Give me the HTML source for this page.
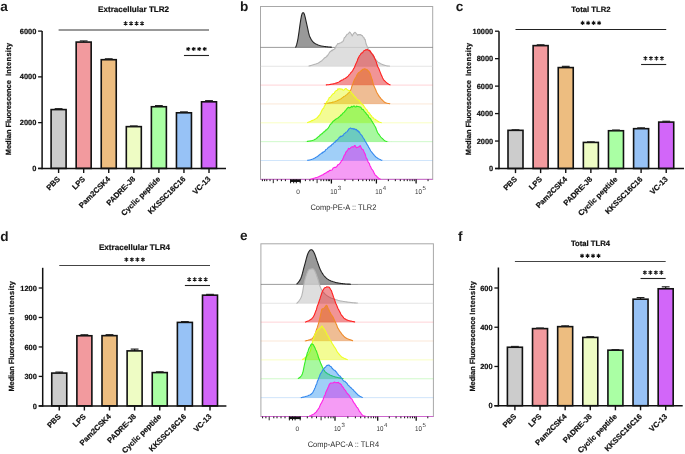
<!DOCTYPE html>
<html><head><meta charset="utf-8"><style>
html,body{margin:0;padding:0;background:#fff;width:685px;height:454px;overflow:hidden}
svg{display:block;font-family:"Liberation Sans", sans-serif;will-change:transform;text-rendering:geometricPrecision}
text[font-weight=bold]{stroke:#111;stroke-width:0.2px}
</style></head><body>
<svg width="685" height="454" viewBox="0 0 685 454">
<rect width="685" height="454" fill="#fff"/>
<rect x="51.10" y="109.59" width="15.00" height="58.81" fill="#cccccc" stroke="#111" stroke-width="1.6"/>
<line x1="58.60" y1="109.59" x2="58.60" y2="108.67" stroke="#111" stroke-width="1.2"/>
<line x1="54.70" y1="108.67" x2="62.50" y2="108.67" stroke="#222" stroke-width="1.2"/>
<line x1="58.60" y1="168.40" x2="58.60" y2="173.00" stroke="#111" stroke-width="1.4"/>
<text x="60.60" y="179.60" transform="rotate(-45 60.60 179.60)" text-anchor="end" font-size="7.65" font-weight="bold" fill="#111" class="b">PBS</text>
<rect x="76.17" y="42.08" width="15.00" height="126.32" fill="#f29a9e" stroke="#111" stroke-width="1.6"/>
<line x1="83.67" y1="42.08" x2="83.67" y2="40.94" stroke="#111" stroke-width="1.2"/>
<line x1="79.77" y1="40.94" x2="87.57" y2="40.94" stroke="#222" stroke-width="1.2"/>
<line x1="83.67" y1="168.40" x2="83.67" y2="173.00" stroke="#111" stroke-width="1.4"/>
<text x="85.67" y="179.60" transform="rotate(-45 85.67 179.60)" text-anchor="end" font-size="7.65" font-weight="bold" fill="#111" class="b">LPS</text>
<rect x="101.24" y="59.70" width="15.00" height="108.70" fill="#edbd80" stroke="#111" stroke-width="1.6"/>
<line x1="108.74" y1="59.70" x2="108.74" y2="58.79" stroke="#111" stroke-width="1.2"/>
<line x1="104.84" y1="58.79" x2="112.64" y2="58.79" stroke="#222" stroke-width="1.2"/>
<line x1="108.74" y1="168.40" x2="108.74" y2="173.00" stroke="#111" stroke-width="1.4"/>
<text x="110.74" y="179.60" transform="rotate(-45 110.74 179.60)" text-anchor="end" font-size="7.65" font-weight="bold" fill="#111" class="b">Pam2CSK4</text>
<rect x="126.31" y="126.64" width="15.00" height="41.76" fill="#eefcc4" stroke="#111" stroke-width="1.6"/>
<line x1="133.81" y1="126.64" x2="133.81" y2="125.95" stroke="#111" stroke-width="1.2"/>
<line x1="129.91" y1="125.95" x2="137.71" y2="125.95" stroke="#222" stroke-width="1.2"/>
<line x1="133.81" y1="168.40" x2="133.81" y2="173.00" stroke="#111" stroke-width="1.4"/>
<text x="135.81" y="179.60" transform="rotate(-45 135.81 179.60)" text-anchor="end" font-size="7.65" font-weight="bold" fill="#111" class="b">PADRE-J8</text>
<rect x="151.38" y="106.73" width="15.00" height="61.67" fill="#aaffa4" stroke="#111" stroke-width="1.6"/>
<line x1="158.88" y1="106.73" x2="158.88" y2="105.59" stroke="#111" stroke-width="1.2"/>
<line x1="154.98" y1="105.59" x2="162.78" y2="105.59" stroke="#222" stroke-width="1.2"/>
<line x1="158.88" y1="168.40" x2="158.88" y2="173.00" stroke="#111" stroke-width="1.4"/>
<text x="160.88" y="179.60" transform="rotate(-45 160.88 179.60)" text-anchor="end" font-size="7.65" font-weight="bold" fill="#111" class="b">Cyclic peptide</text>
<rect x="176.45" y="112.79" width="15.00" height="55.61" fill="#97c2f6" stroke="#111" stroke-width="1.6"/>
<line x1="183.95" y1="112.79" x2="183.95" y2="111.88" stroke="#111" stroke-width="1.2"/>
<line x1="180.05" y1="111.88" x2="187.85" y2="111.88" stroke="#222" stroke-width="1.2"/>
<line x1="183.95" y1="168.40" x2="183.95" y2="173.00" stroke="#111" stroke-width="1.4"/>
<text x="185.95" y="179.60" transform="rotate(-45 185.95 179.60)" text-anchor="end" font-size="7.65" font-weight="bold" fill="#111" class="b">KKSSC16C16</text>
<rect x="201.52" y="101.81" width="15.00" height="66.59" fill="#d266f9" stroke="#111" stroke-width="1.6"/>
<line x1="209.02" y1="101.81" x2="209.02" y2="100.67" stroke="#111" stroke-width="1.2"/>
<line x1="205.12" y1="100.67" x2="212.92" y2="100.67" stroke="#222" stroke-width="1.2"/>
<line x1="209.02" y1="168.40" x2="209.02" y2="173.00" stroke="#111" stroke-width="1.4"/>
<text x="211.02" y="179.60" transform="rotate(-45 211.02 179.60)" text-anchor="end" font-size="7.65" font-weight="bold" fill="#111" class="b">VC-13</text>
<line x1="38.10" y1="168.40" x2="226.00" y2="168.40" stroke="#111" stroke-width="1.5"/>
<line x1="42.10" y1="31.10" x2="42.10" y2="169.15" stroke="#111" stroke-width="1.5"/>
<line x1="38.10" y1="168.40" x2="42.10" y2="168.40" stroke="#111" stroke-width="1.3"/>
<text x="36.30" y="171.00" text-anchor="end" font-size="7.45" font-weight="bold" fill="#111">0</text>
<line x1="38.10" y1="122.63" x2="42.10" y2="122.63" stroke="#111" stroke-width="1.3"/>
<text x="36.30" y="125.23" text-anchor="end" font-size="7.45" font-weight="bold" fill="#111">2000</text>
<line x1="38.10" y1="76.87" x2="42.10" y2="76.87" stroke="#111" stroke-width="1.3"/>
<text x="36.30" y="79.47" text-anchor="end" font-size="7.45" font-weight="bold" fill="#111">4000</text>
<line x1="38.10" y1="31.10" x2="42.10" y2="31.10" stroke="#111" stroke-width="1.3"/>
<text x="36.30" y="33.70" text-anchor="end" font-size="7.45" font-weight="bold" fill="#111">6000</text>
<text x="133.60" y="12.10" text-anchor="middle" font-size="8.1" font-weight="bold" fill="#111">Extracellular TLR2</text>
<line x1="58.60" y1="30.00" x2="209.02" y2="30.00" stroke="#777" stroke-width="1.6"/>
<path d="M125.56,21.30L125.56,25.50M123.74,22.35L127.38,24.45M123.74,24.45L127.38,22.35M131.06,21.30L131.06,25.50M129.24,22.35L132.88,24.45M129.24,24.45L132.88,22.35M136.56,21.30L136.56,25.50M134.74,22.35L138.38,24.45M134.74,24.45L138.38,22.35M142.06,21.30L142.06,25.50M140.24,22.35L143.88,24.45M140.24,24.45L143.88,22.35" stroke="#111" stroke-width="1.05" stroke-linecap="butt" fill="none"/>
<line x1="183.95" y1="55.50" x2="209.02" y2="55.50" stroke="#222" stroke-width="1.1"/>
<path d="M188.24,46.90L188.24,51.10M186.42,47.95L190.05,50.05M186.42,50.05L190.05,47.95M193.74,46.90L193.74,51.10M191.92,47.95L195.55,50.05M191.92,50.05L195.55,47.95M199.24,46.90L199.24,51.10M197.42,47.95L201.05,50.05M197.42,50.05L201.05,47.95M204.74,46.90L204.74,51.10M202.92,47.95L206.55,50.05M202.92,50.05L206.55,47.95" stroke="#111" stroke-width="1.05" stroke-linecap="butt" fill="none"/>
<text x="10.90" y="76.05" transform="rotate(-90 10.90 76.05)" font-size="7.5" font-weight="bold" fill="#111" textLength="33.27" lengthAdjust="spacing">Intensity</text>
<text x="10.90" y="127.60" transform="rotate(-90 10.90 127.60)" font-size="7.5" font-weight="bold" fill="#111" textLength="47.50" lengthAdjust="spacing">Fluorescence</text>
<text x="10.90" y="155.30" transform="rotate(-90 10.90 155.30)" font-size="7.5" font-weight="bold" fill="#111" textLength="25.86" lengthAdjust="spacing">Median</text>
<rect x="508.00" y="130.33" width="15.00" height="38.17" fill="#cccccc" stroke="#111" stroke-width="1.6"/>
<line x1="515.50" y1="130.33" x2="515.50" y2="129.78" stroke="#111" stroke-width="1.2"/>
<line x1="511.60" y1="129.78" x2="519.40" y2="129.78" stroke="#222" stroke-width="1.2"/>
<line x1="515.50" y1="168.50" x2="515.50" y2="173.10" stroke="#111" stroke-width="1.4"/>
<text x="517.50" y="179.70" transform="rotate(-45 517.50 179.70)" text-anchor="end" font-size="7.65" font-weight="bold" fill="#111" class="b">PBS</text>
<rect x="533.12" y="45.62" width="15.00" height="122.88" fill="#f29a9e" stroke="#111" stroke-width="1.6"/>
<line x1="540.62" y1="45.62" x2="540.62" y2="44.79" stroke="#111" stroke-width="1.2"/>
<line x1="536.72" y1="44.79" x2="544.52" y2="44.79" stroke="#222" stroke-width="1.2"/>
<line x1="540.62" y1="168.50" x2="540.62" y2="173.10" stroke="#111" stroke-width="1.4"/>
<text x="542.62" y="179.70" transform="rotate(-45 542.62 179.70)" text-anchor="end" font-size="7.65" font-weight="bold" fill="#111" class="b">LPS</text>
<rect x="558.24" y="67.58" width="15.00" height="100.92" fill="#edbd80" stroke="#111" stroke-width="1.6"/>
<line x1="565.74" y1="67.58" x2="565.74" y2="66.35" stroke="#111" stroke-width="1.2"/>
<line x1="561.84" y1="66.35" x2="569.64" y2="66.35" stroke="#222" stroke-width="1.2"/>
<line x1="565.74" y1="168.50" x2="565.74" y2="173.10" stroke="#111" stroke-width="1.4"/>
<text x="567.74" y="179.70" transform="rotate(-45 567.74 179.70)" text-anchor="end" font-size="7.65" font-weight="bold" fill="#111" class="b">Pam2CSK4</text>
<rect x="583.36" y="142.41" width="15.00" height="26.09" fill="#eefcc4" stroke="#111" stroke-width="1.6"/>
<line x1="590.86" y1="142.41" x2="590.86" y2="141.86" stroke="#111" stroke-width="1.2"/>
<line x1="586.96" y1="141.86" x2="594.76" y2="141.86" stroke="#222" stroke-width="1.2"/>
<line x1="590.86" y1="168.50" x2="590.86" y2="173.10" stroke="#111" stroke-width="1.4"/>
<text x="592.86" y="179.70" transform="rotate(-45 592.86 179.70)" text-anchor="end" font-size="7.65" font-weight="bold" fill="#111" class="b">PADRE-J8</text>
<rect x="608.48" y="130.74" width="15.00" height="37.76" fill="#aaffa4" stroke="#111" stroke-width="1.6"/>
<line x1="615.98" y1="130.74" x2="615.98" y2="130.06" stroke="#111" stroke-width="1.2"/>
<line x1="612.08" y1="130.06" x2="619.88" y2="130.06" stroke="#222" stroke-width="1.2"/>
<line x1="615.98" y1="168.50" x2="615.98" y2="173.10" stroke="#111" stroke-width="1.4"/>
<text x="617.98" y="179.70" transform="rotate(-45 617.98 179.70)" text-anchor="end" font-size="7.65" font-weight="bold" fill="#111" class="b">Cyclic peptide</text>
<rect x="633.60" y="128.68" width="15.00" height="39.82" fill="#97c2f6" stroke="#111" stroke-width="1.6"/>
<line x1="641.10" y1="128.68" x2="641.10" y2="127.86" stroke="#111" stroke-width="1.2"/>
<line x1="637.20" y1="127.86" x2="645.00" y2="127.86" stroke="#222" stroke-width="1.2"/>
<line x1="641.10" y1="168.50" x2="641.10" y2="173.10" stroke="#111" stroke-width="1.4"/>
<text x="643.10" y="179.70" transform="rotate(-45 643.10 179.70)" text-anchor="end" font-size="7.65" font-weight="bold" fill="#111" class="b">KKSSC16C16</text>
<rect x="658.72" y="122.09" width="15.00" height="46.41" fill="#d266f9" stroke="#111" stroke-width="1.6"/>
<line x1="666.22" y1="122.09" x2="666.22" y2="121.27" stroke="#111" stroke-width="1.2"/>
<line x1="662.32" y1="121.27" x2="670.12" y2="121.27" stroke="#222" stroke-width="1.2"/>
<line x1="666.22" y1="168.50" x2="666.22" y2="173.10" stroke="#111" stroke-width="1.4"/>
<text x="668.22" y="179.70" transform="rotate(-45 668.22 179.70)" text-anchor="end" font-size="7.65" font-weight="bold" fill="#111" class="b">VC-13</text>
<line x1="495.00" y1="168.50" x2="684.00" y2="168.50" stroke="#111" stroke-width="1.5"/>
<line x1="499.00" y1="31.20" x2="499.00" y2="169.25" stroke="#111" stroke-width="1.5"/>
<line x1="495.00" y1="168.50" x2="499.00" y2="168.50" stroke="#111" stroke-width="1.3"/>
<text x="493.20" y="171.10" text-anchor="end" font-size="7.45" font-weight="bold" fill="#111">0</text>
<line x1="495.00" y1="141.04" x2="499.00" y2="141.04" stroke="#111" stroke-width="1.3"/>
<text x="493.20" y="143.64" text-anchor="end" font-size="7.45" font-weight="bold" fill="#111">2000</text>
<line x1="495.00" y1="113.58" x2="499.00" y2="113.58" stroke="#111" stroke-width="1.3"/>
<text x="493.20" y="116.18" text-anchor="end" font-size="7.45" font-weight="bold" fill="#111">4000</text>
<line x1="495.00" y1="86.12" x2="499.00" y2="86.12" stroke="#111" stroke-width="1.3"/>
<text x="493.20" y="88.72" text-anchor="end" font-size="7.45" font-weight="bold" fill="#111">6000</text>
<line x1="495.00" y1="58.66" x2="499.00" y2="58.66" stroke="#111" stroke-width="1.3"/>
<text x="493.20" y="61.26" text-anchor="end" font-size="7.45" font-weight="bold" fill="#111">8000</text>
<line x1="495.00" y1="31.20" x2="499.00" y2="31.20" stroke="#111" stroke-width="1.3"/>
<text x="493.20" y="33.80" text-anchor="end" font-size="7.45" font-weight="bold" fill="#111">10000</text>
<text x="590.90" y="11.60" text-anchor="middle" font-size="7.7" font-weight="bold" fill="#111">Total TLR2</text>
<line x1="515.50" y1="29.50" x2="666.22" y2="29.50" stroke="#222" stroke-width="1.2"/>
<path d="M582.61,20.80L582.61,25.00M580.79,21.85L584.43,23.95M580.79,23.95L584.43,21.85M588.11,20.80L588.11,25.00M586.29,21.85L589.93,23.95M586.29,23.95L589.93,21.85M593.61,20.80L593.61,25.00M591.79,21.85L595.43,23.95M591.79,23.95L595.43,21.85M599.11,20.80L599.11,25.00M597.29,21.85L600.93,23.95M597.29,23.95L600.93,21.85" stroke="#111" stroke-width="1.05" stroke-linecap="butt" fill="none"/>
<line x1="641.10" y1="64.50" x2="666.22" y2="64.50" stroke="#222" stroke-width="1.1"/>
<path d="M645.41,56.20L645.41,60.40M643.59,57.25L647.23,59.35M643.59,59.35L647.23,57.25M650.91,56.20L650.91,60.40M649.09,57.25L652.73,59.35M649.09,59.35L652.73,57.25M656.41,56.20L656.41,60.40M654.59,57.25L658.23,59.35M654.59,59.35L658.23,57.25M661.91,56.20L661.91,60.40M660.09,57.25L663.73,59.35M660.09,59.35L663.73,57.25" stroke="#111" stroke-width="1.05" stroke-linecap="butt" fill="none"/>
<text x="471.35" y="76.05" transform="rotate(-90 471.35 76.05)" font-size="7.5" font-weight="bold" fill="#111" textLength="33.27" lengthAdjust="spacing">Intensity</text>
<text x="471.35" y="127.60" transform="rotate(-90 471.35 127.60)" font-size="7.5" font-weight="bold" fill="#111" textLength="47.50" lengthAdjust="spacing">Fluorescence</text>
<text x="471.35" y="155.30" transform="rotate(-90 471.35 155.30)" font-size="7.5" font-weight="bold" fill="#111" textLength="25.86" lengthAdjust="spacing">Median</text>
<rect x="51.75" y="373.08" width="15.00" height="32.82" fill="#cccccc" stroke="#111" stroke-width="1.6"/>
<line x1="59.25" y1="373.08" x2="59.25" y2="372.10" stroke="#111" stroke-width="1.2"/>
<line x1="55.35" y1="372.10" x2="63.15" y2="372.10" stroke="#222" stroke-width="1.2"/>
<line x1="59.25" y1="405.90" x2="59.25" y2="410.50" stroke="#111" stroke-width="1.4"/>
<text x="61.25" y="417.10" transform="rotate(-45 61.25 417.10)" text-anchor="end" font-size="7.65" font-weight="bold" fill="#111" class="b">PBS</text>
<rect x="76.88" y="335.75" width="15.00" height="70.15" fill="#f29a9e" stroke="#111" stroke-width="1.6"/>
<line x1="84.38" y1="335.75" x2="84.38" y2="334.77" stroke="#111" stroke-width="1.2"/>
<line x1="80.47" y1="334.77" x2="88.28" y2="334.77" stroke="#222" stroke-width="1.2"/>
<line x1="84.38" y1="405.90" x2="84.38" y2="410.50" stroke="#111" stroke-width="1.4"/>
<text x="86.38" y="417.10" transform="rotate(-45 86.38 417.10)" text-anchor="end" font-size="7.65" font-weight="bold" fill="#111" class="b">LPS</text>
<rect x="102.00" y="335.65" width="15.00" height="70.25" fill="#edbd80" stroke="#111" stroke-width="1.6"/>
<line x1="109.50" y1="335.65" x2="109.50" y2="334.67" stroke="#111" stroke-width="1.2"/>
<line x1="105.60" y1="334.67" x2="113.40" y2="334.67" stroke="#222" stroke-width="1.2"/>
<line x1="109.50" y1="405.90" x2="109.50" y2="410.50" stroke="#111" stroke-width="1.4"/>
<text x="111.50" y="417.10" transform="rotate(-45 111.50 417.10)" text-anchor="end" font-size="7.65" font-weight="bold" fill="#111" class="b">Pam2CSK4</text>
<rect x="127.12" y="350.88" width="15.00" height="55.02" fill="#eefcc4" stroke="#111" stroke-width="1.6"/>
<line x1="134.62" y1="350.88" x2="134.62" y2="349.11" stroke="#111" stroke-width="1.2"/>
<line x1="130.72" y1="349.11" x2="138.53" y2="349.11" stroke="#222" stroke-width="1.2"/>
<line x1="134.62" y1="405.90" x2="134.62" y2="410.50" stroke="#111" stroke-width="1.4"/>
<text x="136.62" y="417.10" transform="rotate(-45 136.62 417.10)" text-anchor="end" font-size="7.65" font-weight="bold" fill="#111" class="b">PADRE-J8</text>
<rect x="152.25" y="372.59" width="15.00" height="33.31" fill="#aaffa4" stroke="#111" stroke-width="1.6"/>
<line x1="159.75" y1="372.59" x2="159.75" y2="371.81" stroke="#111" stroke-width="1.2"/>
<line x1="155.85" y1="371.81" x2="163.65" y2="371.81" stroke="#222" stroke-width="1.2"/>
<line x1="159.75" y1="405.90" x2="159.75" y2="410.50" stroke="#111" stroke-width="1.4"/>
<text x="161.75" y="417.10" transform="rotate(-45 161.75 417.10)" text-anchor="end" font-size="7.65" font-weight="bold" fill="#111" class="b">Cyclic peptide</text>
<rect x="177.38" y="322.39" width="15.00" height="83.51" fill="#97c2f6" stroke="#111" stroke-width="1.6"/>
<line x1="184.88" y1="322.39" x2="184.88" y2="321.60" stroke="#111" stroke-width="1.2"/>
<line x1="180.97" y1="321.60" x2="188.78" y2="321.60" stroke="#222" stroke-width="1.2"/>
<line x1="184.88" y1="405.90" x2="184.88" y2="410.50" stroke="#111" stroke-width="1.4"/>
<text x="186.88" y="417.10" transform="rotate(-45 186.88 417.10)" text-anchor="end" font-size="7.65" font-weight="bold" fill="#111" class="b">KKSSC16C16</text>
<rect x="202.50" y="295.17" width="15.00" height="110.73" fill="#d266f9" stroke="#111" stroke-width="1.6"/>
<line x1="210.00" y1="295.17" x2="210.00" y2="294.39" stroke="#111" stroke-width="1.2"/>
<line x1="206.10" y1="294.39" x2="213.90" y2="294.39" stroke="#222" stroke-width="1.2"/>
<line x1="210.00" y1="405.90" x2="210.00" y2="410.50" stroke="#111" stroke-width="1.4"/>
<text x="212.00" y="417.10" transform="rotate(-45 212.00 417.10)" text-anchor="end" font-size="7.65" font-weight="bold" fill="#111" class="b">VC-13</text>
<line x1="38.70" y1="405.90" x2="226.40" y2="405.90" stroke="#111" stroke-width="1.5"/>
<line x1="42.70" y1="267.80" x2="42.70" y2="406.65" stroke="#111" stroke-width="1.5"/>
<line x1="38.70" y1="405.90" x2="42.70" y2="405.90" stroke="#111" stroke-width="1.3"/>
<text x="36.90" y="408.50" text-anchor="end" font-size="7.45" font-weight="bold" fill="#111">0</text>
<line x1="38.70" y1="376.42" x2="42.70" y2="376.42" stroke="#111" stroke-width="1.3"/>
<text x="36.90" y="379.02" text-anchor="end" font-size="7.45" font-weight="bold" fill="#111">300</text>
<line x1="38.70" y1="346.95" x2="42.70" y2="346.95" stroke="#111" stroke-width="1.3"/>
<text x="36.90" y="349.55" text-anchor="end" font-size="7.45" font-weight="bold" fill="#111">600</text>
<line x1="38.70" y1="317.48" x2="42.70" y2="317.48" stroke="#111" stroke-width="1.3"/>
<text x="36.90" y="320.08" text-anchor="end" font-size="7.45" font-weight="bold" fill="#111">900</text>
<line x1="38.70" y1="288.00" x2="42.70" y2="288.00" stroke="#111" stroke-width="1.3"/>
<text x="36.90" y="290.60" text-anchor="end" font-size="7.45" font-weight="bold" fill="#111">1200</text>
<text x="134.50" y="249.60" text-anchor="middle" font-size="8.1" font-weight="bold" fill="#111">Extracellular TLR4</text>
<line x1="59.25" y1="265.50" x2="210.00" y2="265.50" stroke="#444" stroke-width="1.2"/>
<path d="M126.38,257.50L126.38,261.70M124.56,258.55L128.19,260.65M124.56,260.65L128.19,258.55M131.88,257.50L131.88,261.70M130.06,258.55L133.69,260.65M130.06,260.65L133.69,258.55M137.38,257.50L137.38,261.70M135.56,258.55L139.19,260.65M135.56,260.65L139.19,258.55M142.88,257.50L142.88,261.70M141.06,258.55L144.69,260.65M141.06,260.65L144.69,258.55" stroke="#111" stroke-width="1.05" stroke-linecap="butt" fill="none"/>
<line x1="184.88" y1="285.50" x2="210.00" y2="285.50" stroke="#222" stroke-width="1.1"/>
<path d="M189.19,277.30L189.19,281.50M187.37,278.35L191.01,280.45M187.37,280.45L191.01,278.35M194.69,277.30L194.69,281.50M192.87,278.35L196.51,280.45M192.87,280.45L196.51,278.35M200.19,277.30L200.19,281.50M198.37,278.35L202.01,280.45M198.37,280.45L202.01,278.35M205.69,277.30L205.69,281.50M203.87,278.35L207.51,280.45M203.87,280.45L207.51,278.35" stroke="#111" stroke-width="1.05" stroke-linecap="butt" fill="none"/>
<text x="13.90" y="314.75" transform="rotate(-90 13.90 314.75)" font-size="7.5" font-weight="bold" fill="#111" textLength="33.72" lengthAdjust="spacing">Intensity</text>
<text x="13.90" y="364.25" transform="rotate(-90 13.90 364.25)" font-size="7.5" font-weight="bold" fill="#111" textLength="47.75" lengthAdjust="spacing">Fluorescence</text>
<text x="13.90" y="391.55" transform="rotate(-90 13.90 391.55)" font-size="7.5" font-weight="bold" fill="#111" textLength="25.31" lengthAdjust="spacing">Median</text>
<rect x="507.40" y="347.24" width="15.00" height="58.46" fill="#cccccc" stroke="#111" stroke-width="1.6"/>
<line x1="514.90" y1="347.24" x2="514.90" y2="346.46" stroke="#111" stroke-width="1.2"/>
<line x1="511.00" y1="346.46" x2="518.80" y2="346.46" stroke="#222" stroke-width="1.2"/>
<line x1="514.90" y1="405.70" x2="514.90" y2="410.30" stroke="#111" stroke-width="1.4"/>
<text x="516.90" y="416.90" transform="rotate(-45 516.90 416.90)" text-anchor="end" font-size="7.65" font-weight="bold" fill="#111" class="b">PBS</text>
<rect x="532.53" y="328.61" width="15.00" height="77.09" fill="#f29a9e" stroke="#111" stroke-width="1.6"/>
<line x1="540.03" y1="328.61" x2="540.03" y2="328.02" stroke="#111" stroke-width="1.2"/>
<line x1="536.13" y1="328.02" x2="543.93" y2="328.02" stroke="#222" stroke-width="1.2"/>
<line x1="540.03" y1="405.70" x2="540.03" y2="410.30" stroke="#111" stroke-width="1.4"/>
<text x="542.03" y="416.90" transform="rotate(-45 542.03 416.90)" text-anchor="end" font-size="7.65" font-weight="bold" fill="#111" class="b">LPS</text>
<rect x="557.66" y="326.64" width="15.00" height="79.06" fill="#edbd80" stroke="#111" stroke-width="1.6"/>
<line x1="565.16" y1="326.64" x2="565.16" y2="325.86" stroke="#111" stroke-width="1.2"/>
<line x1="561.26" y1="325.86" x2="569.06" y2="325.86" stroke="#222" stroke-width="1.2"/>
<line x1="565.16" y1="405.70" x2="565.16" y2="410.30" stroke="#111" stroke-width="1.4"/>
<text x="567.16" y="416.90" transform="rotate(-45 567.16 416.90)" text-anchor="end" font-size="7.65" font-weight="bold" fill="#111" class="b">Pam2CSK4</text>
<rect x="582.79" y="337.43" width="15.00" height="68.27" fill="#eefcc4" stroke="#111" stroke-width="1.6"/>
<line x1="590.29" y1="337.43" x2="590.29" y2="336.65" stroke="#111" stroke-width="1.2"/>
<line x1="586.39" y1="336.65" x2="594.19" y2="336.65" stroke="#222" stroke-width="1.2"/>
<line x1="590.29" y1="405.70" x2="590.29" y2="410.30" stroke="#111" stroke-width="1.4"/>
<text x="592.29" y="416.90" transform="rotate(-45 592.29 416.90)" text-anchor="end" font-size="7.65" font-weight="bold" fill="#111" class="b">PADRE-J8</text>
<rect x="607.92" y="350.18" width="15.00" height="55.52" fill="#aaffa4" stroke="#111" stroke-width="1.6"/>
<line x1="615.42" y1="350.18" x2="615.42" y2="349.60" stroke="#111" stroke-width="1.2"/>
<line x1="611.52" y1="349.60" x2="619.32" y2="349.60" stroke="#222" stroke-width="1.2"/>
<line x1="615.42" y1="405.70" x2="615.42" y2="410.30" stroke="#111" stroke-width="1.4"/>
<text x="617.42" y="416.90" transform="rotate(-45 617.42 416.90)" text-anchor="end" font-size="7.65" font-weight="bold" fill="#111" class="b">Cyclic peptide</text>
<rect x="633.05" y="299.18" width="15.00" height="106.52" fill="#97c2f6" stroke="#111" stroke-width="1.6"/>
<line x1="640.55" y1="299.18" x2="640.55" y2="297.61" stroke="#111" stroke-width="1.2"/>
<line x1="636.65" y1="297.61" x2="644.45" y2="297.61" stroke="#222" stroke-width="1.2"/>
<line x1="640.55" y1="405.70" x2="640.55" y2="410.30" stroke="#111" stroke-width="1.4"/>
<text x="642.55" y="416.90" transform="rotate(-45 642.55 416.90)" text-anchor="end" font-size="7.65" font-weight="bold" fill="#111" class="b">KKSSC16C16</text>
<rect x="658.18" y="288.78" width="15.00" height="116.92" fill="#d266f9" stroke="#111" stroke-width="1.6"/>
<line x1="665.68" y1="288.78" x2="665.68" y2="286.82" stroke="#111" stroke-width="1.2"/>
<line x1="661.78" y1="286.82" x2="669.58" y2="286.82" stroke="#222" stroke-width="1.2"/>
<line x1="665.68" y1="405.70" x2="665.68" y2="410.30" stroke="#111" stroke-width="1.4"/>
<text x="667.68" y="416.90" transform="rotate(-45 667.68 416.90)" text-anchor="end" font-size="7.65" font-weight="bold" fill="#111" class="b">VC-13</text>
<line x1="494.40" y1="405.70" x2="682.70" y2="405.70" stroke="#111" stroke-width="1.5"/>
<line x1="498.40" y1="267.50" x2="498.40" y2="406.45" stroke="#111" stroke-width="1.5"/>
<line x1="494.40" y1="405.70" x2="498.40" y2="405.70" stroke="#111" stroke-width="1.3"/>
<text x="492.60" y="408.30" text-anchor="end" font-size="7.45" font-weight="bold" fill="#111">0</text>
<line x1="494.40" y1="366.47" x2="498.40" y2="366.47" stroke="#111" stroke-width="1.3"/>
<text x="492.60" y="369.07" text-anchor="end" font-size="7.45" font-weight="bold" fill="#111">200</text>
<line x1="494.40" y1="327.23" x2="498.40" y2="327.23" stroke="#111" stroke-width="1.3"/>
<text x="492.60" y="329.83" text-anchor="end" font-size="7.45" font-weight="bold" fill="#111">400</text>
<line x1="494.40" y1="288.00" x2="498.40" y2="288.00" stroke="#111" stroke-width="1.3"/>
<text x="492.60" y="290.60" text-anchor="end" font-size="7.45" font-weight="bold" fill="#111">600</text>
<text x="590.50" y="246.30" text-anchor="middle" font-size="7.7" font-weight="bold" fill="#111">Total TLR4</text>
<line x1="514.90" y1="261.50" x2="665.68" y2="261.50" stroke="#444" stroke-width="1.2"/>
<path d="M582.04,253.70L582.04,257.90M580.22,254.75L583.86,256.85M580.22,256.85L583.86,254.75M587.54,253.70L587.54,257.90M585.72,254.75L589.36,256.85M585.72,256.85L589.36,254.75M593.04,253.70L593.04,257.90M591.22,254.75L594.86,256.85M591.22,256.85L594.86,254.75M598.54,253.70L598.54,257.90M596.72,254.75L600.36,256.85M596.72,256.85L600.36,254.75" stroke="#111" stroke-width="1.05" stroke-linecap="butt" fill="none"/>
<line x1="640.55" y1="278.50" x2="665.68" y2="278.50" stroke="#222" stroke-width="1.1"/>
<path d="M644.87,270.50L644.87,274.70M643.05,271.55L646.68,273.65M643.05,273.65L646.68,271.55M650.37,270.50L650.37,274.70M648.55,271.55L652.18,273.65M648.55,273.65L652.18,271.55M655.87,270.50L655.87,274.70M654.05,271.55L657.68,273.65M654.05,273.65L657.68,271.55M661.37,270.50L661.37,274.70M659.55,271.55L663.18,273.65M659.55,273.65L663.18,271.55" stroke="#111" stroke-width="1.05" stroke-linecap="butt" fill="none"/>
<text x="474.80" y="314.75" transform="rotate(-90 474.80 314.75)" font-size="7.5" font-weight="bold" fill="#111" textLength="33.72" lengthAdjust="spacing">Intensity</text>
<text x="474.80" y="364.25" transform="rotate(-90 474.80 364.25)" font-size="7.5" font-weight="bold" fill="#111" textLength="47.75" lengthAdjust="spacing">Fluorescence</text>
<text x="474.80" y="391.55" transform="rotate(-90 474.80 391.55)" font-size="7.5" font-weight="bold" fill="#111" textLength="25.31" lengthAdjust="spacing">Median</text>
<text x="0.3" y="10.8" font-size="13.6" font-weight="bold" fill="#1a1a1a" style="stroke:none">a</text>
<text x="240.1" y="10.6" font-size="13.6" font-weight="bold" fill="#1a1a1a" style="stroke:none">b</text>
<text x="455.8" y="11.0" font-size="13.6" font-weight="bold" fill="#1a1a1a" style="stroke:none">c</text>
<text x="0.2" y="240.7" font-size="13.6" font-weight="bold" fill="#1a1a1a" style="stroke:none">d</text>
<text x="240.1" y="240.2" font-size="13.6" font-weight="bold" fill="#1a1a1a" style="stroke:none">e</text>
<text x="457.9" y="241.2" font-size="13.6" font-weight="bold" fill="#1a1a1a" style="stroke:none">f</text>
<rect x="260.5" y="6.5" width="172.2" height="172.85000000000002" fill="#fff" stroke="#a8a8a8" stroke-width="1"/>
<path d="M294.50,47.40 L295.07,47.40 L295.90,46.90 L296.56,44.89 L297.29,42.02 L298.00,38.60 L298.98,32.09 L299.90,25.40 L300.73,19.86 L301.50,15.60 L302.20,13.42 L302.90,12.70 L303.63,12.79 L304.50,14.60 L305.27,17.57 L306.15,21.53 L307.00,25.40 L307.77,28.97 L308.51,32.45 L309.30,35.40 L310.17,37.58 L311.08,39.23 L312.00,40.60 L312.64,41.46 L313.24,42.13 L313.93,42.71 L314.80,43.30 L315.40,43.66 L316.06,44.02 L316.77,44.37 L317.52,44.71 L318.31,45.03 L319.14,45.33 L320.00,45.60 L320.62,45.77 L321.27,45.92 L321.94,46.06 L322.62,46.19 L323.32,46.31 L324.04,46.42 L324.77,46.52 L325.51,46.62 L326.25,46.71 L327.00,46.80 L327.72,46.88 L328.50,46.95 L329.33,47.02 L330.17,47.09 L331.02,47.15 L331.85,47.20 L332.64,47.25 L333.37,47.30 L334.02,47.34 L334.57,47.37 L335.00,47.40 L335.00,47.40 L294.50,47.40 Z" fill="#999999" fill-opacity="1.0" stroke="none"/>
<line x1="260.5" y1="47.40" x2="432.7" y2="47.40" stroke="#5a5a5a" stroke-opacity="0.85" stroke-width="0.7"/>
<path d="M295.07,47.40 L295.90,46.90 L296.56,44.89 L297.29,42.02 L298.00,38.60 L298.98,32.09 L299.90,25.40 L300.73,19.86 L301.50,15.60 L302.20,13.42 L302.90,12.70 L303.63,12.79 L304.50,14.60 L305.27,17.57 L306.15,21.53 L307.00,25.40 L307.77,28.97 L308.51,32.45 L309.30,35.40 L310.17,37.58 L311.08,39.23 L312.00,40.60 L312.64,41.46 L313.24,42.13 L313.93,42.71 L314.80,43.30 L315.40,43.66 L316.06,44.02 L316.77,44.37 L317.52,44.71 L318.31,45.03 L319.14,45.33 L320.00,45.60 L320.62,45.77 L321.27,45.92 L321.94,46.06 L322.62,46.19 L323.32,46.31 L324.04,46.42 L324.77,46.52 L325.51,46.62 L326.25,46.71 L327.00,46.80 L327.72,46.88 L328.50,46.95 L329.33,47.02 L330.17,47.09 L331.02,47.15 L331.85,47.20" fill="none" stroke="#222222" stroke-width="1.1" stroke-linejoin="round"/>
<path d="M306.00,66.25 L306.40,66.25 L307.09,66.25 L308.60,66.06 L309.09,65.93 L309.66,65.78 L310.29,65.62 L310.98,65.44 L311.71,65.24 L312.48,65.03 L313.27,64.80 L314.07,64.56 L314.88,64.30 L315.68,64.09 L316.46,63.75 L317.22,63.47 L317.93,63.23 L318.60,62.75 L319.41,62.48 L320.21,61.71 L321.00,61.15 L321.78,60.89 L322.54,59.94 L323.27,59.34 L323.98,58.49 L324.66,57.80 L325.31,57.51 L325.92,57.35 L326.50,56.11 L327.43,55.89 L328.23,54.44 L328.93,53.45 L329.56,52.33 L330.17,51.63 L330.80,51.42 L331.56,50.23 L332.29,50.74 L332.98,49.61 L333.65,49.65 L334.30,49.19 L335.02,48.53 L335.66,47.15 L336.34,45.50 L337.20,44.54 L337.82,43.51 L338.54,43.71 L339.31,43.38 L340.09,42.94 L340.86,42.81 L341.58,42.08 L342.20,41.94 L343.02,41.33 L343.65,39.91 L344.28,37.74 L345.10,37.26 L345.73,36.40 L346.46,35.12 L347.25,34.23 L348.05,33.94 L348.82,33.17 L349.52,32.01 L350.10,32.43 L351.28,33.97 L352.20,35.98 L352.89,34.75 L353.65,33.37 L354.41,32.71 L355.10,32.26 L356.11,33.45 L357.20,34.65 L357.81,35.40 L358.50,34.55 L359.24,34.47 L360.01,35.03 L360.80,34.60 L361.50,35.38 L362.26,35.60 L363.04,37.03 L363.80,37.29 L364.50,39.19 L365.10,39.28 L366.06,43.82 L367.20,46.55 L367.75,48.59 L368.41,48.73 L369.14,49.73 L369.92,51.61 L370.72,52.32 L371.52,53.29 L372.29,54.12 L373.00,55.98 L373.73,56.34 L374.41,57.35 L375.05,58.93 L375.70,59.80 L376.39,60.23 L377.15,61.25 L378.00,62.11 L378.60,62.53 L379.24,62.84 L379.90,63.25 L380.60,63.67 L381.31,63.91 L382.04,64.33 L382.79,64.62 L383.54,64.89 L384.30,65.14 L385.05,65.36 L385.80,65.56 L386.52,65.72 L387.29,65.85 L388.10,65.95 L388.93,66.03 L389.76,66.09 L390.59,66.13 L391.39,66.16 L392.14,66.19 L392.84,66.20 L393.46,66.22 L393.98,66.24 L394.40,66.25 L394.40,66.25 L306.00,66.25 Z" fill="#d5d5d5" fill-opacity="0.78" stroke="none"/>
<line x1="260.5" y1="66.25" x2="432.7" y2="66.25" stroke="#d0d0d0" stroke-opacity="0.8" stroke-width="0.7"/>
<path d="M308.60,66.06 L309.09,65.93 L309.66,65.78 L310.29,65.62 L310.98,65.44 L311.71,65.24 L312.48,65.03 L313.27,64.80 L314.07,64.56 L314.88,64.30 L315.68,64.09 L316.46,63.75 L317.22,63.47 L317.93,63.23 L318.60,62.75 L319.41,62.48 L320.21,61.71 L321.00,61.15 L321.78,60.89 L322.54,59.94 L323.27,59.34 L323.98,58.49 L324.66,57.80 L325.31,57.51 L325.92,57.35 L326.50,56.11 L327.43,55.89 L328.23,54.44 L328.93,53.45 L329.56,52.33 L330.17,51.63 L330.80,51.42 L331.56,50.23 L332.29,50.74 L332.98,49.61 L333.65,49.65 L334.30,49.19 L335.02,48.53 L335.66,47.15 L336.34,45.50 L337.20,44.54 L337.82,43.51 L338.54,43.71 L339.31,43.38 L340.09,42.94 L340.86,42.81 L341.58,42.08 L342.20,41.94 L343.02,41.33 L343.65,39.91 L344.28,37.74 L345.10,37.26 L345.73,36.40 L346.46,35.12 L347.25,34.23 L348.05,33.94 L348.82,33.17 L349.52,32.01 L350.10,32.43 L351.28,33.97 L352.20,35.98 L352.89,34.75 L353.65,33.37 L354.41,32.71 L355.10,32.26 L356.11,33.45 L357.20,34.65 L357.81,35.40 L358.50,34.55 L359.24,34.47 L360.01,35.03 L360.80,34.60 L361.50,35.38 L362.26,35.60 L363.04,37.03 L363.80,37.29 L364.50,39.19 L365.10,39.28 L366.06,43.82 L367.20,46.55 L367.75,48.59 L368.41,48.73 L369.14,49.73 L369.92,51.61 L370.72,52.32 L371.52,53.29 L372.29,54.12 L373.00,55.98 L373.73,56.34 L374.41,57.35 L375.05,58.93 L375.70,59.80 L376.39,60.23 L377.15,61.25 L378.00,62.11 L378.60,62.53 L379.24,62.84 L379.90,63.25 L380.60,63.67 L381.31,63.91 L382.04,64.33 L382.79,64.62 L383.54,64.89 L384.30,65.14 L385.05,65.36 L385.80,65.56 L386.52,65.72 L387.29,65.85 L388.10,65.95 L388.93,66.03 L389.76,66.09" fill="none" stroke="#b4b4b4" stroke-width="1.1" stroke-linejoin="round"/>
<path d="M322.00,85.10 L322.42,85.08 L322.95,85.05 L323.59,85.02 L324.30,84.99 L325.06,84.96 L325.86,84.91 L326.68,84.86 L327.49,84.80 L328.27,84.72 L329.00,84.63 L329.71,84.52 L330.43,84.41 L331.16,84.29 L331.89,84.15 L332.62,84.01 L333.34,83.85 L334.04,83.68 L334.72,83.51 L335.38,83.32 L336.00,83.13 L336.83,82.89 L337.60,82.53 L338.33,82.26 L339.03,81.86 L339.71,81.35 L340.40,81.11 L341.10,80.53 L341.94,80.08 L342.80,79.92 L343.64,79.04 L344.47,78.74 L345.26,78.50 L346.00,77.80 L346.78,77.27 L347.48,76.66 L348.14,76.12 L348.82,75.21 L349.60,74.37 L350.33,73.51 L351.11,72.37 L351.92,71.61 L352.75,70.53 L353.58,68.86 L354.40,67.56 L355.10,65.83 L355.80,63.88 L356.50,62.51 L357.20,61.00 L357.90,58.78 L358.60,57.61 L359.30,56.02 L360.13,54.97 L361.00,53.68 L361.86,52.86 L362.68,52.70 L363.44,51.12 L364.10,50.65 L365.07,50.28 L365.78,49.80 L366.50,49.87 L367.24,49.45 L367.99,49.91 L369.00,50.67 L369.67,50.47 L370.43,51.37 L371.25,52.92 L372.11,54.04 L372.97,54.68 L373.80,56.32 L374.61,58.30 L375.43,59.87 L376.25,61.90 L377.07,64.79 L377.89,66.95 L378.70,68.32 L379.49,70.37 L380.26,72.38 L381.02,74.26 L381.81,76.02 L382.63,77.88 L383.50,79.59 L384.21,80.52 L384.95,81.13 L385.72,81.95 L386.51,82.60 L387.31,83.28 L388.09,83.79 L388.86,84.24 L389.60,84.63 L390.46,84.95 L391.35,85.10 L392.25,85.10 L393.10,85.10 L393.87,85.10 L394.52,85.10 L395.00,85.10 L395.00,85.10 L322.00,85.10 Z" fill="#de0005" fill-opacity="0.42" stroke="none"/>
<line x1="260.5" y1="85.10" x2="432.7" y2="85.10" stroke="#ff6070" stroke-opacity="0.4" stroke-width="0.7"/>
<path d="M325.86,84.91 L326.68,84.86 L327.49,84.80 L328.27,84.72 L329.00,84.63 L329.71,84.52 L330.43,84.41 L331.16,84.29 L331.89,84.15 L332.62,84.01 L333.34,83.85 L334.04,83.68 L334.72,83.51 L335.38,83.32 L336.00,83.13 L336.83,82.89 L337.60,82.53 L338.33,82.26 L339.03,81.86 L339.71,81.35 L340.40,81.11 L341.10,80.53 L341.94,80.08 L342.80,79.92 L343.64,79.04 L344.47,78.74 L345.26,78.50 L346.00,77.80 L346.78,77.27 L347.48,76.66 L348.14,76.12 L348.82,75.21 L349.60,74.37 L350.33,73.51 L351.11,72.37 L351.92,71.61 L352.75,70.53 L353.58,68.86 L354.40,67.56 L355.10,65.83 L355.80,63.88 L356.50,62.51 L357.20,61.00 L357.90,58.78 L358.60,57.61 L359.30,56.02 L360.13,54.97 L361.00,53.68 L361.86,52.86 L362.68,52.70 L363.44,51.12 L364.10,50.65 L365.07,50.28 L365.78,49.80 L366.50,49.87 L367.24,49.45 L367.99,49.91 L369.00,50.67 L369.67,50.47 L370.43,51.37 L371.25,52.92 L372.11,54.04 L372.97,54.68 L373.80,56.32 L374.61,58.30 L375.43,59.87 L376.25,61.90 L377.07,64.79 L377.89,66.95 L378.70,68.32 L379.49,70.37 L380.26,72.38 L381.02,74.26 L381.81,76.02 L382.63,77.88 L383.50,79.59 L384.21,80.52 L384.95,81.13 L385.72,81.95 L386.51,82.60 L387.31,83.28 L388.09,83.79 L388.86,84.24 L389.60,84.63 L390.46,84.95" fill="none" stroke="#ff2020" stroke-width="1.1" stroke-linejoin="round"/>
<path d="M322.00,103.95 L322.26,103.95 L322.77,103.95 L324.30,103.79 L324.77,103.70 L325.32,103.61 L325.93,103.50 L326.60,103.39 L327.32,103.27 L328.07,103.13 L328.86,102.99 L329.66,102.84 L330.48,102.68 L331.30,102.51 L332.12,102.34 L332.92,102.15 L333.70,102.01 L334.44,101.78 L335.15,101.53 L335.80,101.21 L336.62,100.90 L337.42,100.55 L338.20,100.33 L338.96,99.79 L339.69,99.45 L340.41,99.06 L341.10,98.66 L341.78,98.24 L342.44,97.50 L343.07,97.32 L343.70,96.58 L344.30,96.34 L345.17,95.93 L346.01,95.13 L346.80,94.59 L347.56,93.95 L348.26,93.11 L348.92,92.64 L349.54,92.30 L350.10,91.15 L351.20,88.88 L351.97,85.94 L352.90,83.75 L353.53,81.96 L354.22,80.12 L354.96,78.70 L355.71,77.53 L356.47,76.19 L357.20,74.44 L357.92,73.52 L358.66,72.58 L359.39,72.49 L360.12,71.44 L360.82,71.04 L361.50,70.53 L362.26,69.71 L362.99,69.22 L363.69,69.10 L364.39,68.74 L365.10,68.92 L365.83,69.09 L366.58,69.61 L367.32,69.81 L368.03,70.74 L368.70,71.29 L369.45,72.12 L370.14,73.60 L370.81,75.61 L371.50,77.87 L372.19,79.69 L372.86,82.32 L373.57,85.04 L374.40,86.86 L375.02,88.30 L375.68,89.59 L376.38,91.43 L377.11,92.97 L377.89,94.18 L378.70,95.66 L379.35,96.67 L380.03,97.33 L380.73,98.39 L381.46,99.27 L382.20,99.92 L382.94,100.71 L383.68,101.38 L384.40,101.99 L385.13,102.45 L385.89,102.81 L386.66,103.08 L387.43,103.29 L388.17,103.44 L388.87,103.57 L389.52,103.68 L390.10,103.79 L391.09,103.95 L391.91,103.95 L392.54,103.95 L393.00,103.95 L393.00,103.95 L322.00,103.95 Z" fill="#d96100" fill-opacity="0.42" stroke="none"/>
<line x1="260.5" y1="103.95" x2="432.7" y2="103.95" stroke="#f0a060" stroke-opacity="0.35" stroke-width="0.7"/>
<path d="M324.30,103.79 L324.77,103.70 L325.32,103.61 L325.93,103.50 L326.60,103.39 L327.32,103.27 L328.07,103.13 L328.86,102.99 L329.66,102.84 L330.48,102.68 L331.30,102.51 L332.12,102.34 L332.92,102.15 L333.70,102.01 L334.44,101.78 L335.15,101.53 L335.80,101.21 L336.62,100.90 L337.42,100.55 L338.20,100.33 L338.96,99.79 L339.69,99.45 L340.41,99.06 L341.10,98.66 L341.78,98.24 L342.44,97.50 L343.07,97.32 L343.70,96.58 L344.30,96.34 L345.17,95.93 L346.01,95.13 L346.80,94.59 L347.56,93.95 L348.26,93.11 L348.92,92.64 L349.54,92.30 L350.10,91.15 L351.20,88.88 L351.97,85.94 L352.90,83.75 L353.53,81.96 L354.22,80.12 L354.96,78.70 L355.71,77.53 L356.47,76.19 L357.20,74.44 L357.92,73.52 L358.66,72.58 L359.39,72.49 L360.12,71.44 L360.82,71.04 L361.50,70.53 L362.26,69.71 L362.99,69.22 L363.69,69.10 L364.39,68.74 L365.10,68.92 L365.83,69.09 L366.58,69.61 L367.32,69.81 L368.03,70.74 L368.70,71.29 L369.45,72.12 L370.14,73.60 L370.81,75.61 L371.50,77.87 L372.19,79.69 L372.86,82.32 L373.57,85.04 L374.40,86.86 L375.02,88.30 L375.68,89.59 L376.38,91.43 L377.11,92.97 L377.89,94.18 L378.70,95.66 L379.35,96.67 L380.03,97.33 L380.73,98.39 L381.46,99.27 L382.20,99.92 L382.94,100.71 L383.68,101.38 L384.40,101.99 L385.13,102.45 L385.89,102.81 L386.66,103.08 L387.43,103.29 L388.17,103.44 L388.87,103.57 L389.52,103.68 L390.10,103.79" fill="none" stroke="#f08a28" stroke-width="1.1" stroke-linejoin="round"/>
<path d="M305.00,122.76 L305.28,122.80 L305.81,122.80 L307.20,122.66 L307.68,122.46 L308.26,122.23 L308.90,121.97 L309.61,121.69 L310.37,121.38 L311.17,121.05 L311.98,120.60 L312.81,120.36 L313.63,119.91 L314.43,119.41 L315.20,119.07 L315.93,118.60 L316.60,118.08 L317.20,117.90 L318.12,116.69 L318.93,115.62 L319.65,115.01 L320.32,113.69 L320.95,112.56 L321.58,111.04 L322.22,109.69 L322.90,108.75 L323.61,108.31 L324.32,106.20 L325.04,105.42 L325.75,104.37 L326.46,102.05 L327.18,101.49 L327.89,100.54 L328.60,99.08 L329.32,97.49 L330.06,97.24 L330.80,96.69 L331.54,95.43 L332.27,94.71 L332.97,93.90 L333.65,93.55 L334.30,93.22 L335.10,91.60 L335.84,90.86 L336.54,90.45 L337.22,90.38 L337.90,88.84 L338.60,89.24 L339.33,88.81 L340.09,88.74 L340.84,89.26 L341.57,88.96 L342.26,89.18 L342.90,90.03 L343.69,90.19 L344.35,89.53 L345.01,88.90 L345.80,88.55 L346.42,88.78 L347.08,89.77 L347.78,89.87 L348.51,90.70 L349.29,90.45 L350.10,91.28 L350.75,91.46 L351.43,93.15 L352.13,93.83 L352.86,93.99 L353.60,95.66 L354.34,96.04 L355.08,97.15 L355.80,97.39 L356.51,98.89 L357.23,99.38 L357.94,99.83 L358.65,100.12 L359.36,100.57 L360.07,101.90 L360.79,103.02 L361.50,103.52 L362.21,104.64 L362.92,104.55 L363.63,105.63 L364.34,106.92 L365.06,107.77 L365.77,109.00 L366.48,109.31 L367.20,110.41 L367.91,111.78 L368.61,112.51 L369.31,113.05 L370.01,114.13 L370.73,115.13 L371.46,115.89 L372.21,117.10 L373.00,117.57 L373.66,118.45 L374.36,118.88 L375.08,119.26 L375.81,119.79 L376.56,120.36 L377.30,120.84 L378.03,121.26 L378.75,121.64 L379.44,121.97 L380.10,122.26 L380.92,122.52 L381.76,122.68 L382.59,122.77 L383.39,122.79 L384.14,122.79 L384.81,122.76 L385.37,122.75 L385.80,122.76 L385.80,122.80 L305.00,122.80 Z" fill="#e3f700" fill-opacity="0.42" stroke="none"/>
<line x1="260.5" y1="122.80" x2="432.7" y2="122.80" stroke="#eeff44" stroke-opacity="0.45" stroke-width="0.7"/>
<path d="M307.20,122.66 L307.68,122.46 L308.26,122.23 L308.90,121.97 L309.61,121.69 L310.37,121.38 L311.17,121.05 L311.98,120.60 L312.81,120.36 L313.63,119.91 L314.43,119.41 L315.20,119.07 L315.93,118.60 L316.60,118.08 L317.20,117.90 L318.12,116.69 L318.93,115.62 L319.65,115.01 L320.32,113.69 L320.95,112.56 L321.58,111.04 L322.22,109.69 L322.90,108.75 L323.61,108.31 L324.32,106.20 L325.04,105.42 L325.75,104.37 L326.46,102.05 L327.18,101.49 L327.89,100.54 L328.60,99.08 L329.32,97.49 L330.06,97.24 L330.80,96.69 L331.54,95.43 L332.27,94.71 L332.97,93.90 L333.65,93.55 L334.30,93.22 L335.10,91.60 L335.84,90.86 L336.54,90.45 L337.22,90.38 L337.90,88.84 L338.60,89.24 L339.33,88.81 L340.09,88.74 L340.84,89.26 L341.57,88.96 L342.26,89.18 L342.90,90.03 L343.69,90.19 L344.35,89.53 L345.01,88.90 L345.80,88.55 L346.42,88.78 L347.08,89.77 L347.78,89.87 L348.51,90.70 L349.29,90.45 L350.10,91.28 L350.75,91.46 L351.43,93.15 L352.13,93.83 L352.86,93.99 L353.60,95.66 L354.34,96.04 L355.08,97.15 L355.80,97.39 L356.51,98.89 L357.23,99.38 L357.94,99.83 L358.65,100.12 L359.36,100.57 L360.07,101.90 L360.79,103.02 L361.50,103.52 L362.21,104.64 L362.92,104.55 L363.63,105.63 L364.34,106.92 L365.06,107.77 L365.77,109.00 L366.48,109.31 L367.20,110.41 L367.91,111.78 L368.61,112.51 L369.31,113.05 L370.01,114.13 L370.73,115.13 L371.46,115.89 L372.21,117.10 L373.00,117.57 L373.66,118.45 L374.36,118.88 L375.08,119.26 L375.81,119.79 L376.56,120.36 L377.30,120.84 L378.03,121.26 L378.75,121.64 L379.44,121.97 L380.10,122.26 L380.92,122.52 L381.76,122.68" fill="none" stroke="#eeff22" stroke-width="1.1" stroke-linejoin="round"/>
<path d="M303.00,141.62 L303.48,141.65 L304.26,141.65 L305.70,141.62 L306.21,141.54 L306.81,141.46 L307.47,141.37 L308.18,141.27 L308.94,141.16 L309.72,141.03 L310.52,140.88 L311.32,140.71 L312.11,140.51 L312.88,140.28 L313.61,140.02 L314.30,139.72 L315.08,139.22 L315.85,138.88 L316.61,138.20 L317.35,137.75 L318.08,136.87 L318.80,136.35 L319.49,136.05 L320.18,134.86 L320.85,134.76 L321.50,133.71 L322.30,133.73 L323.08,132.45 L323.84,131.86 L324.58,131.73 L325.28,130.63 L325.96,129.91 L326.60,129.97 L327.20,129.03 L328.01,128.41 L328.66,127.20 L329.26,126.61 L329.93,124.85 L330.80,124.23 L331.39,123.01 L332.05,123.06 L332.75,121.63 L333.49,120.97 L334.25,120.48 L335.01,119.79 L335.77,119.24 L336.50,118.84 L337.20,118.36 L337.95,117.92 L338.67,117.48 L339.39,116.49 L340.09,116.31 L340.79,114.98 L341.49,115.27 L342.19,114.09 L342.90,113.15 L343.59,112.64 L344.26,112.24 L344.91,111.08 L345.57,110.67 L346.25,109.53 L346.97,108.69 L347.75,107.82 L348.60,107.27 L349.23,107.87 L349.92,107.65 L350.65,107.47 L351.41,106.27 L352.20,107.09 L352.99,106.36 L353.77,106.13 L354.54,106.17 L355.28,107.05 L355.98,107.02 L356.62,105.99 L357.20,106.48 L358.17,106.48 L358.95,106.69 L359.62,106.86 L360.23,106.96 L360.83,107.26 L361.50,108.57 L362.22,109.56 L362.93,109.24 L363.65,110.19 L364.37,111.59 L365.08,112.17 L365.80,112.88 L366.52,114.20 L367.23,114.84 L367.95,115.25 L368.67,117.04 L369.38,117.74 L370.10,118.40 L370.82,119.11 L371.53,120.92 L372.25,121.56 L372.97,123.19 L373.68,123.87 L374.40,125.50 L375.10,126.54 L375.78,127.75 L376.46,129.71 L377.16,131.52 L377.90,132.97 L378.70,134.22 L379.36,134.80 L380.06,136.00 L380.80,137.00 L381.55,137.85 L382.30,138.39 L383.04,139.18 L383.74,139.89 L384.40,140.42 L385.21,140.94 L385.97,141.25 L386.70,141.42 L387.39,141.50 L388.06,141.55 L388.70,141.62 L389.67,141.65 L390.62,141.65 L391.43,141.65 L392.00,141.62 L392.00,141.65 L303.00,141.65 Z" fill="#25ed11" fill-opacity="0.4" stroke="none"/>
<line x1="260.5" y1="141.65" x2="432.7" y2="141.65" stroke="#55ee44" stroke-opacity="0.4" stroke-width="0.7"/>
<path d="M306.81,141.46 L307.47,141.37 L308.18,141.27 L308.94,141.16 L309.72,141.03 L310.52,140.88 L311.32,140.71 L312.11,140.51 L312.88,140.28 L313.61,140.02 L314.30,139.72 L315.08,139.22 L315.85,138.88 L316.61,138.20 L317.35,137.75 L318.08,136.87 L318.80,136.35 L319.49,136.05 L320.18,134.86 L320.85,134.76 L321.50,133.71 L322.30,133.73 L323.08,132.45 L323.84,131.86 L324.58,131.73 L325.28,130.63 L325.96,129.91 L326.60,129.97 L327.20,129.03 L328.01,128.41 L328.66,127.20 L329.26,126.61 L329.93,124.85 L330.80,124.23 L331.39,123.01 L332.05,123.06 L332.75,121.63 L333.49,120.97 L334.25,120.48 L335.01,119.79 L335.77,119.24 L336.50,118.84 L337.20,118.36 L337.95,117.92 L338.67,117.48 L339.39,116.49 L340.09,116.31 L340.79,114.98 L341.49,115.27 L342.19,114.09 L342.90,113.15 L343.59,112.64 L344.26,112.24 L344.91,111.08 L345.57,110.67 L346.25,109.53 L346.97,108.69 L347.75,107.82 L348.60,107.27 L349.23,107.87 L349.92,107.65 L350.65,107.47 L351.41,106.27 L352.20,107.09 L352.99,106.36 L353.77,106.13 L354.54,106.17 L355.28,107.05 L355.98,107.02 L356.62,105.99 L357.20,106.48 L358.17,106.48 L358.95,106.69 L359.62,106.86 L360.23,106.96 L360.83,107.26 L361.50,108.57 L362.22,109.56 L362.93,109.24 L363.65,110.19 L364.37,111.59 L365.08,112.17 L365.80,112.88 L366.52,114.20 L367.23,114.84 L367.95,115.25 L368.67,117.04 L369.38,117.74 L370.10,118.40 L370.82,119.11 L371.53,120.92 L372.25,121.56 L372.97,123.19 L373.68,123.87 L374.40,125.50 L375.10,126.54 L375.78,127.75 L376.46,129.71 L377.16,131.52 L377.90,132.97 L378.70,134.22 L379.36,134.80 L380.06,136.00 L380.80,137.00 L381.55,137.85 L382.30,138.39 L383.04,139.18 L383.74,139.89 L384.40,140.42 L385.21,140.94 L385.97,141.25 L386.70,141.42 L387.39,141.50" fill="none" stroke="#33ee22" stroke-width="1.1" stroke-linejoin="round"/>
<path d="M304.00,160.49 L304.48,160.50 L305.16,160.50 L306.05,160.50 L307.20,160.39 L307.74,160.28 L308.32,160.17 L308.95,160.06 L309.62,159.93 L310.32,159.77 L311.06,159.58 L311.83,159.35 L312.63,159.06 L313.45,158.71 L314.30,158.18 L314.93,157.92 L315.59,157.52 L316.28,157.11 L316.99,156.75 L317.71,156.33 L318.46,155.65 L319.21,155.05 L319.96,154.33 L320.71,154.04 L321.46,153.03 L322.20,153.10 L322.92,152.12 L323.62,152.12 L324.30,151.45 L325.07,150.95 L325.85,149.47 L326.62,149.16 L327.38,148.67 L328.13,147.68 L328.87,146.96 L329.59,147.03 L330.30,145.84 L330.99,145.93 L331.65,144.86 L332.29,144.14 L332.90,144.13 L333.75,143.00 L334.53,142.15 L335.25,142.17 L335.93,140.64 L336.59,140.62 L337.24,139.83 L337.91,139.23 L338.60,138.54 L339.32,137.15 L340.04,137.21 L340.76,136.17 L341.49,136.53 L342.21,135.89 L342.92,135.66 L343.62,134.58 L344.30,133.45 L345.07,133.24 L345.83,132.21 L346.57,132.05 L347.31,131.36 L348.03,130.42 L348.72,128.92 L349.40,128.75 L350.16,128.12 L350.89,128.13 L351.59,128.70 L352.28,128.83 L352.95,128.43 L353.60,129.12 L354.37,128.90 L355.12,129.12 L355.84,129.82 L356.53,129.37 L357.20,130.92 L357.94,130.44 L358.61,132.09 L359.29,131.72 L360.10,133.39 L360.72,134.53 L361.38,134.88 L362.08,135.79 L362.81,137.28 L363.59,138.40 L364.40,139.48 L365.05,141.05 L365.73,142.22 L366.43,143.06 L367.16,144.69 L367.90,145.58 L368.64,147.36 L369.38,148.28 L370.10,149.64 L370.81,151.00 L371.51,151.89 L372.20,152.71 L372.90,153.71 L373.60,154.46 L374.32,155.32 L375.05,156.10 L375.80,156.98 L376.50,157.34 L377.24,157.87 L378.01,158.48 L378.79,158.88 L379.56,159.27 L380.31,159.61 L381.03,159.91 L381.70,160.17 L382.30,160.39 L383.28,160.50 L384.16,160.50 L384.92,160.50 L385.54,160.50 L386.00,160.49 L386.00,160.50 L304.00,160.50 Z" fill="#1187ed" fill-opacity="0.4" stroke="none"/>
<line x1="260.5" y1="160.50" x2="432.7" y2="160.50" stroke="#55a0f0" stroke-opacity="0.4" stroke-width="0.7"/>
<path d="M307.20,160.39 L307.74,160.28 L308.32,160.17 L308.95,160.06 L309.62,159.93 L310.32,159.77 L311.06,159.58 L311.83,159.35 L312.63,159.06 L313.45,158.71 L314.30,158.18 L314.93,157.92 L315.59,157.52 L316.28,157.11 L316.99,156.75 L317.71,156.33 L318.46,155.65 L319.21,155.05 L319.96,154.33 L320.71,154.04 L321.46,153.03 L322.20,153.10 L322.92,152.12 L323.62,152.12 L324.30,151.45 L325.07,150.95 L325.85,149.47 L326.62,149.16 L327.38,148.67 L328.13,147.68 L328.87,146.96 L329.59,147.03 L330.30,145.84 L330.99,145.93 L331.65,144.86 L332.29,144.14 L332.90,144.13 L333.75,143.00 L334.53,142.15 L335.25,142.17 L335.93,140.64 L336.59,140.62 L337.24,139.83 L337.91,139.23 L338.60,138.54 L339.32,137.15 L340.04,137.21 L340.76,136.17 L341.49,136.53 L342.21,135.89 L342.92,135.66 L343.62,134.58 L344.30,133.45 L345.07,133.24 L345.83,132.21 L346.57,132.05 L347.31,131.36 L348.03,130.42 L348.72,128.92 L349.40,128.75 L350.16,128.12 L350.89,128.13 L351.59,128.70 L352.28,128.83 L352.95,128.43 L353.60,129.12 L354.37,128.90 L355.12,129.12 L355.84,129.82 L356.53,129.37 L357.20,130.92 L357.94,130.44 L358.61,132.09 L359.29,131.72 L360.10,133.39 L360.72,134.53 L361.38,134.88 L362.08,135.79 L362.81,137.28 L363.59,138.40 L364.40,139.48 L365.05,141.05 L365.73,142.22 L366.43,143.06 L367.16,144.69 L367.90,145.58 L368.64,147.36 L369.38,148.28 L370.10,149.64 L370.81,151.00 L371.51,151.89 L372.20,152.71 L372.90,153.71 L373.60,154.46 L374.32,155.32 L375.05,156.10 L375.80,156.98 L376.50,157.34 L377.24,157.87 L378.01,158.48 L378.79,158.88 L379.56,159.27 L380.31,159.61 L381.03,159.91 L381.70,160.17 L382.30,160.39" fill="none" stroke="#3388ee" stroke-width="1.1" stroke-linejoin="round"/>
<path d="M308.00,179.35 L308.45,179.35 L309.07,179.35 L310.00,179.35 L311.40,179.05 L311.92,178.90 L312.52,178.72 L313.18,178.51 L313.88,178.28 L314.64,178.04 L315.42,177.77 L316.22,177.50 L317.03,177.32 L317.84,177.06 L318.64,176.72 L319.41,176.19 L320.16,176.14 L320.86,175.64 L321.50,175.33 L322.33,175.05 L323.11,174.81 L323.85,174.03 L324.55,173.47 L325.23,173.41 L325.90,172.87 L326.56,172.77 L327.22,171.87 L327.90,171.48 L328.60,171.61 L329.32,170.46 L330.06,170.21 L330.80,170.36 L331.54,170.05 L332.29,169.68 L333.02,168.12 L333.75,167.85 L334.45,167.36 L335.14,167.33 L335.80,167.33 L336.60,166.81 L337.40,165.58 L338.17,164.42 L338.93,164.25 L339.64,163.82 L340.31,162.69 L340.94,161.83 L341.50,160.55 L342.37,160.18 L342.99,158.44 L343.56,157.19 L344.30,155.06 L344.91,154.81 L345.57,152.87 L346.26,151.57 L347.00,150.88 L347.78,149.76 L348.60,148.33 L349.27,148.98 L350.01,148.55 L350.80,147.66 L351.59,146.96 L352.38,146.65 L353.13,147.03 L353.81,146.90 L354.40,145.58 L355.31,145.84 L355.98,147.13 L356.56,147.79 L357.20,147.33 L357.89,147.48 L358.56,146.76 L359.27,146.69 L360.10,145.51 L360.75,146.62 L361.49,148.37 L362.26,149.41 L363.03,149.52 L363.75,151.14 L364.40,152.88 L365.17,154.12 L365.80,156.40 L366.43,158.41 L367.20,159.20 L367.83,161.27 L368.52,162.64 L369.26,163.38 L370.01,165.74 L370.77,167.05 L371.50,168.89 L372.22,169.64 L372.93,170.50 L373.65,172.08 L374.37,173.61 L375.08,174.76 L375.80,175.52 L376.53,176.19 L377.29,177.02 L378.04,177.68 L378.77,178.23 L379.46,178.68 L380.10,179.05 L380.99,179.35 L381.82,179.35 L382.51,179.35 L383.00,179.35 L383.00,179.35 L308.00,179.35 Z" fill="#e608e6" fill-opacity="0.4" stroke="none"/>
<line x1="260.5" y1="179.35" x2="432.7" y2="179.35" stroke="#e040e0" stroke-opacity="0.9" stroke-width="0.7"/>
<path d="M310.00,179.35 L311.40,179.05 L311.92,178.90 L312.52,178.72 L313.18,178.51 L313.88,178.28 L314.64,178.04 L315.42,177.77 L316.22,177.50 L317.03,177.32 L317.84,177.06 L318.64,176.72 L319.41,176.19 L320.16,176.14 L320.86,175.64 L321.50,175.33 L322.33,175.05 L323.11,174.81 L323.85,174.03 L324.55,173.47 L325.23,173.41 L325.90,172.87 L326.56,172.77 L327.22,171.87 L327.90,171.48 L328.60,171.61 L329.32,170.46 L330.06,170.21 L330.80,170.36 L331.54,170.05 L332.29,169.68 L333.02,168.12 L333.75,167.85 L334.45,167.36 L335.14,167.33 L335.80,167.33 L336.60,166.81 L337.40,165.58 L338.17,164.42 L338.93,164.25 L339.64,163.82 L340.31,162.69 L340.94,161.83 L341.50,160.55 L342.37,160.18 L342.99,158.44 L343.56,157.19 L344.30,155.06 L344.91,154.81 L345.57,152.87 L346.26,151.57 L347.00,150.88 L347.78,149.76 L348.60,148.33 L349.27,148.98 L350.01,148.55 L350.80,147.66 L351.59,146.96 L352.38,146.65 L353.13,147.03 L353.81,146.90 L354.40,145.58 L355.31,145.84 L355.98,147.13 L356.56,147.79 L357.20,147.33 L357.89,147.48 L358.56,146.76 L359.27,146.69 L360.10,145.51 L360.75,146.62 L361.49,148.37 L362.26,149.41 L363.03,149.52 L363.75,151.14 L364.40,152.88 L365.17,154.12 L365.80,156.40 L366.43,158.41 L367.20,159.20 L367.83,161.27 L368.52,162.64 L369.26,163.38 L370.01,165.74 L370.77,167.05 L371.50,168.89 L372.22,169.64 L372.93,170.50 L373.65,172.08 L374.37,173.61 L375.08,174.76 L375.80,175.52 L376.53,176.19 L377.29,177.02 L378.04,177.68 L378.77,178.23 L379.46,178.68 L380.10,179.05 L380.99,179.35" fill="none" stroke="#ff22e6" stroke-width="1.1" stroke-linejoin="round"/>
<line x1="262.40" y1="179.35" x2="262.40" y2="181.15" stroke="#111" stroke-width="1.0"/>
<line x1="264.60" y1="179.35" x2="264.60" y2="181.15" stroke="#111" stroke-width="1.0"/>
<line x1="266.80" y1="179.35" x2="266.80" y2="181.15" stroke="#111" stroke-width="1.0"/>
<line x1="270.00" y1="179.35" x2="270.00" y2="181.15" stroke="#111" stroke-width="1.0"/>
<line x1="277.30" y1="179.35" x2="277.30" y2="181.15" stroke="#111" stroke-width="1.0"/>
<line x1="281.40" y1="179.35" x2="281.40" y2="181.15" stroke="#111" stroke-width="1.0"/>
<line x1="285.40" y1="179.35" x2="285.40" y2="181.15" stroke="#111" stroke-width="1.0"/>
<line x1="273.30" y1="179.35" x2="273.30" y2="183.15" stroke="#111" stroke-width="0.9"/>
<rect x="290.10" y="179.35" width="10.60" height="2.6" fill="#111"/>
<line x1="290.60" y1="179.35" x2="290.60" y2="183.25" stroke="#111" stroke-width="1.0"/>
<line x1="293.70" y1="179.35" x2="293.70" y2="183.25" stroke="#111" stroke-width="1.0"/>
<line x1="296.30" y1="179.35" x2="296.30" y2="183.25" stroke="#111" stroke-width="1.0"/>
<line x1="300.20" y1="179.35" x2="300.20" y2="183.25" stroke="#111" stroke-width="1.0"/>
<line x1="305.40" y1="179.35" x2="305.40" y2="181.15" stroke="#111" stroke-width="1.0"/>
<line x1="309.90" y1="179.35" x2="309.90" y2="181.15" stroke="#111" stroke-width="1.0"/>
<line x1="313.20" y1="179.35" x2="313.20" y2="181.15" stroke="#111" stroke-width="1.0"/>
<line x1="321.00" y1="179.35" x2="321.00" y2="181.15" stroke="#111" stroke-width="1.0"/>
<line x1="323.70" y1="179.35" x2="323.70" y2="181.15" stroke="#111" stroke-width="1.0"/>
<line x1="326.30" y1="179.35" x2="326.30" y2="181.15" stroke="#111" stroke-width="1.0"/>
<line x1="328.30" y1="179.35" x2="328.30" y2="181.15" stroke="#111" stroke-width="1.0"/>
<line x1="329.60" y1="179.35" x2="329.60" y2="181.15" stroke="#111" stroke-width="1.0"/>
<line x1="317.10" y1="179.35" x2="317.10" y2="183.15" stroke="#111" stroke-width="0.9"/>
<line x1="331.40" y1="179.35" x2="331.40" y2="183.55" stroke="#111" stroke-width="1.3"/>
<line x1="344.95" y1="179.35" x2="344.95" y2="181.15" stroke="#111" stroke-width="1.0"/>
<line x1="352.87" y1="179.35" x2="352.87" y2="181.15" stroke="#111" stroke-width="1.0"/>
<line x1="358.49" y1="179.35" x2="358.49" y2="181.15" stroke="#111" stroke-width="1.0"/>
<line x1="362.85" y1="179.35" x2="362.85" y2="181.15" stroke="#111" stroke-width="1.0"/>
<line x1="366.42" y1="179.35" x2="366.42" y2="181.15" stroke="#111" stroke-width="1.0"/>
<line x1="369.43" y1="179.35" x2="369.43" y2="181.15" stroke="#111" stroke-width="1.0"/>
<line x1="372.04" y1="179.35" x2="372.04" y2="181.15" stroke="#111" stroke-width="1.0"/>
<line x1="374.34" y1="179.35" x2="374.34" y2="181.15" stroke="#111" stroke-width="1.0"/>
<line x1="376.40" y1="179.35" x2="376.40" y2="183.55" stroke="#111" stroke-width="1.3"/>
<line x1="388.35" y1="179.35" x2="388.35" y2="181.15" stroke="#111" stroke-width="1.0"/>
<line x1="395.34" y1="179.35" x2="395.34" y2="181.15" stroke="#111" stroke-width="1.0"/>
<line x1="400.30" y1="179.35" x2="400.30" y2="181.15" stroke="#111" stroke-width="1.0"/>
<line x1="404.15" y1="179.35" x2="404.15" y2="181.15" stroke="#111" stroke-width="1.0"/>
<line x1="407.29" y1="179.35" x2="407.29" y2="181.15" stroke="#111" stroke-width="1.0"/>
<line x1="409.95" y1="179.35" x2="409.95" y2="181.15" stroke="#111" stroke-width="1.0"/>
<line x1="412.25" y1="179.35" x2="412.25" y2="181.15" stroke="#111" stroke-width="1.0"/>
<line x1="414.28" y1="179.35" x2="414.28" y2="181.15" stroke="#111" stroke-width="1.0"/>
<line x1="416.10" y1="179.35" x2="416.10" y2="183.55" stroke="#111" stroke-width="1.3"/>
<line x1="428.05" y1="179.35" x2="428.05" y2="181.15" stroke="#111" stroke-width="1.0"/>
<text x="298.00" y="193.60" text-anchor="middle" font-size="6.5" fill="#333">0</text>
<text x="330.30" y="193.60" font-size="7" fill="#333" textLength="6.9" lengthAdjust="spacingAndGlyphs">10</text>
<text x="337.80" y="190.00" font-size="6" fill="#333">3</text>
<text x="375.30" y="193.60" font-size="7" fill="#333" textLength="6.9" lengthAdjust="spacingAndGlyphs">10</text>
<text x="382.80" y="190.00" font-size="6" fill="#333">4</text>
<text x="415.00" y="193.60" font-size="7" fill="#333" textLength="6.9" lengthAdjust="spacingAndGlyphs">10</text>
<text x="422.50" y="190.00" font-size="6" fill="#333">5</text>
<text x="310.40" y="209.70" font-size="8" fill="#2a2a2a" textLength="66.00" lengthAdjust="spacingAndGlyphs">Comp-PE-A :: TLR2</text>
<rect x="260.9" y="243.8" width="172.5" height="172.7" fill="#fff" stroke="#a8a8a8" stroke-width="1"/>
<path d="M294.00,284.40 L294.58,284.40 L295.43,284.40 L296.50,284.20 L297.13,283.61 L297.86,282.86 L298.64,281.96 L299.43,280.88 L300.20,279.63 L300.90,278.20 L301.66,276.14 L302.36,273.73 L303.04,271.12 L303.71,268.46 L304.40,265.90 L305.10,263.31 L305.81,260.58 L306.52,257.92 L307.22,255.52 L307.90,253.60 L308.73,251.87 L309.53,250.69 L310.32,249.99 L311.10,249.70 L311.85,249.81 L312.58,250.35 L313.32,251.32 L314.10,252.70 L314.77,254.23 L315.46,256.14 L316.18,258.26 L316.89,260.41 L317.60,262.40 L318.27,264.25 L318.91,266.07 L319.57,267.85 L320.28,269.57 L321.10,271.20 L321.74,272.32 L322.41,273.42 L323.11,274.49 L323.85,275.51 L324.64,276.48 L325.49,277.38 L326.40,278.20 L327.01,278.68 L327.64,279.13 L328.29,279.54 L328.97,279.93 L329.66,280.30 L330.38,280.64 L331.12,280.97 L331.88,281.27 L332.66,281.56 L333.47,281.84 L334.30,282.10 L334.92,282.28 L335.55,282.46 L336.19,282.62 L336.84,282.76 L337.50,282.90 L338.18,283.03 L338.86,283.15 L339.56,283.27 L340.28,283.37 L341.01,283.47 L341.75,283.57 L342.51,283.66 L343.29,283.74 L344.09,283.82 L344.90,283.90 L345.54,283.95 L346.23,284.00 L346.96,284.05 L347.72,284.09 L348.51,284.13 L349.32,284.16 L350.14,284.19 L350.96,284.22 L351.79,284.24 L352.61,284.26 L353.42,284.28 L354.21,284.30 L354.97,284.31 L355.70,284.33 L356.38,284.34 L357.03,284.35 L357.62,284.36 L358.15,284.38 L358.61,284.39 L359.00,284.40 L359.00,284.40 L294.00,284.40 Z" fill="#999999" fill-opacity="1.0" stroke="none"/>
<line x1="260.9" y1="284.40" x2="433.4" y2="284.40" stroke="#5a5a5a" stroke-opacity="0.85" stroke-width="0.7"/>
<path d="M296.50,284.20 L297.13,283.61 L297.86,282.86 L298.64,281.96 L299.43,280.88 L300.20,279.63 L300.90,278.20 L301.66,276.14 L302.36,273.73 L303.04,271.12 L303.71,268.46 L304.40,265.90 L305.10,263.31 L305.81,260.58 L306.52,257.92 L307.22,255.52 L307.90,253.60 L308.73,251.87 L309.53,250.69 L310.32,249.99 L311.10,249.70 L311.85,249.81 L312.58,250.35 L313.32,251.32 L314.10,252.70 L314.77,254.23 L315.46,256.14 L316.18,258.26 L316.89,260.41 L317.60,262.40 L318.27,264.25 L318.91,266.07 L319.57,267.85 L320.28,269.57 L321.10,271.20 L321.74,272.32 L322.41,273.42 L323.11,274.49 L323.85,275.51 L324.64,276.48 L325.49,277.38 L326.40,278.20 L327.01,278.68 L327.64,279.13 L328.29,279.54 L328.97,279.93 L329.66,280.30 L330.38,280.64 L331.12,280.97 L331.88,281.27 L332.66,281.56 L333.47,281.84 L334.30,282.10 L334.92,282.28 L335.55,282.46 L336.19,282.62 L336.84,282.76 L337.50,282.90 L338.18,283.03 L338.86,283.15 L339.56,283.27 L340.28,283.37 L341.01,283.47 L341.75,283.57 L342.51,283.66 L343.29,283.74 L344.09,283.82 L344.90,283.90 L345.54,283.95 L346.23,284.00 L346.96,284.05 L347.72,284.09 L348.51,284.13 L349.32,284.16 L350.14,284.19 L350.96,284.22" fill="none" stroke="#222222" stroke-width="1.1" stroke-linejoin="round"/>
<path d="M295.00,303.27 L295.52,303.27 L296.29,303.27 L297.30,302.90 L297.93,302.20 L298.67,301.32 L299.48,300.26 L300.28,299.00 L301.04,297.55 L301.70,295.90 L302.70,291.60 L303.50,286.50 L304.40,281.80 L305.06,279.32 L305.78,276.90 L306.52,274.66 L307.24,272.72 L307.90,271.20 L308.83,269.77 L309.67,269.28 L310.60,269.10 L311.25,268.94 L311.94,268.81 L312.66,268.83 L313.39,269.12 L314.10,269.80 L314.80,270.95 L315.50,272.50 L316.20,274.31 L316.90,276.26 L317.60,278.20 L318.26,280.24 L318.87,282.45 L319.51,284.71 L320.23,286.87 L321.10,288.80 L321.72,289.87 L322.36,290.88 L323.03,291.84 L323.76,292.74 L324.53,293.59 L325.38,294.40 L326.30,295.17 L327.30,295.90 L327.87,296.28 L328.47,296.64 L329.08,296.99 L329.72,297.32 L330.38,297.64 L331.06,297.96 L331.75,298.25 L332.47,298.54 L333.20,298.82 L333.94,299.09 L334.71,299.35 L335.49,299.60 L336.28,299.84 L337.08,300.07 L337.90,300.30 L338.53,300.46 L339.18,300.62 L339.86,300.77 L340.55,300.92 L341.26,301.06 L341.99,301.19 L342.72,301.32 L343.46,301.45 L344.21,301.57 L344.96,301.68 L345.71,301.79 L346.45,301.90 L347.19,302.00 L347.92,302.09 L348.65,302.19 L349.35,302.28 L350.05,302.36 L350.72,302.44 L351.37,302.52 L352.00,302.60 L352.83,302.69 L353.66,302.78 L354.50,302.85 L355.33,302.92 L356.16,302.98 L356.96,303.03 L357.75,303.07 L358.51,303.11 L359.23,303.15 L359.91,303.18 L360.55,303.21 L361.13,303.23 L361.65,303.25 L362.11,303.27 L362.50,303.27 L362.50,303.27 L295.00,303.27 Z" fill="#d5d5d5" fill-opacity="0.78" stroke="none"/>
<line x1="260.9" y1="303.27" x2="433.4" y2="303.27" stroke="#d0d0d0" stroke-opacity="0.8" stroke-width="0.7"/>
<path d="M296.29,303.27 L297.30,302.90 L297.93,302.20 L298.67,301.32 L299.48,300.26 L300.28,299.00 L301.04,297.55 L301.70,295.90 L302.70,291.60 L303.50,286.50 L304.40,281.80 L305.06,279.32 L305.78,276.90 L306.52,274.66 L307.24,272.72 L307.90,271.20 L308.83,269.77 L309.67,269.28 L310.60,269.10 L311.25,268.94 L311.94,268.81 L312.66,268.83 L313.39,269.12 L314.10,269.80 L314.80,270.95 L315.50,272.50 L316.20,274.31 L316.90,276.26 L317.60,278.20 L318.26,280.24 L318.87,282.45 L319.51,284.71 L320.23,286.87 L321.10,288.80 L321.72,289.87 L322.36,290.88 L323.03,291.84 L323.76,292.74 L324.53,293.59 L325.38,294.40 L326.30,295.17 L327.30,295.90 L327.87,296.28 L328.47,296.64 L329.08,296.99 L329.72,297.32 L330.38,297.64 L331.06,297.96 L331.75,298.25 L332.47,298.54 L333.20,298.82 L333.94,299.09 L334.71,299.35 L335.49,299.60 L336.28,299.84 L337.08,300.07 L337.90,300.30 L338.53,300.46 L339.18,300.62 L339.86,300.77 L340.55,300.92 L341.26,301.06 L341.99,301.19 L342.72,301.32 L343.46,301.45 L344.21,301.57 L344.96,301.68 L345.71,301.79 L346.45,301.90 L347.19,302.00 L347.92,302.09 L348.65,302.19 L349.35,302.28 L350.05,302.36 L350.72,302.44 L351.37,302.52 L352.00,302.60 L352.83,302.69 L353.66,302.78 L354.50,302.85 L355.33,302.92 L356.16,302.98 L356.96,303.03 L357.75,303.07" fill="none" stroke="#b4b4b4" stroke-width="1.1" stroke-linejoin="round"/>
<path d="M303.00,322.10 L303.46,322.14 L304.11,322.14 L304.97,322.14 L306.10,321.80 L306.66,321.54 L307.29,321.28 L307.99,320.98 L308.74,320.65 L309.51,320.26 L310.30,319.86 L311.08,319.29 L311.83,318.73 L312.54,317.96 L313.20,316.95 L314.06,315.58 L314.87,313.44 L315.64,311.35 L316.39,309.69 L317.10,306.77 L317.81,304.92 L318.50,303.28 L319.29,300.74 L320.05,298.46 L320.78,296.06 L321.50,293.95 L322.20,291.83 L322.90,290.37 L323.73,289.02 L324.53,287.89 L325.33,287.47 L326.11,287.18 L326.90,286.75 L327.69,286.94 L328.49,287.02 L329.27,287.34 L330.05,288.47 L330.80,289.78 L331.51,290.82 L332.19,292.96 L332.85,294.81 L333.55,297.15 L334.30,299.10 L334.96,300.94 L335.63,303.26 L336.33,304.37 L337.07,306.26 L337.85,308.27 L338.70,309.69 L339.36,311.04 L340.02,312.17 L340.70,313.75 L341.41,315.02 L342.17,315.79 L343.00,316.91 L343.90,318.06 L344.90,318.87 L345.50,319.12 L346.17,319.52 L346.91,319.89 L347.69,320.16 L348.50,320.43 L349.33,320.67 L350.17,320.90 L351.00,321.10 L351.81,321.28 L352.59,321.45 L353.32,321.60 L353.99,321.74 L354.58,321.87 L355.09,321.99 L355.50,322.10 L355.50,322.14 L303.00,322.14 Z" fill="#de0005" fill-opacity="0.42" stroke="none"/>
<line x1="260.9" y1="322.14" x2="433.4" y2="322.14" stroke="#ff6070" stroke-opacity="0.4" stroke-width="0.7"/>
<path d="M304.97,322.14 L306.10,321.80 L306.66,321.54 L307.29,321.28 L307.99,320.98 L308.74,320.65 L309.51,320.26 L310.30,319.86 L311.08,319.29 L311.83,318.73 L312.54,317.96 L313.20,316.95 L314.06,315.58 L314.87,313.44 L315.64,311.35 L316.39,309.69 L317.10,306.77 L317.81,304.92 L318.50,303.28 L319.29,300.74 L320.05,298.46 L320.78,296.06 L321.50,293.95 L322.20,291.83 L322.90,290.37 L323.73,289.02 L324.53,287.89 L325.33,287.47 L326.11,287.18 L326.90,286.75 L327.69,286.94 L328.49,287.02 L329.27,287.34 L330.05,288.47 L330.80,289.78 L331.51,290.82 L332.19,292.96 L332.85,294.81 L333.55,297.15 L334.30,299.10 L334.96,300.94 L335.63,303.26 L336.33,304.37 L337.07,306.26 L337.85,308.27 L338.70,309.69 L339.36,311.04 L340.02,312.17 L340.70,313.75 L341.41,315.02 L342.17,315.79 L343.00,316.91 L343.90,318.06 L344.90,318.87 L345.50,319.12 L346.17,319.52 L346.91,319.89 L347.69,320.16 L348.50,320.43 L349.33,320.67 L350.17,320.90 L351.00,321.10 L351.81,321.28 L352.59,321.45 L353.32,321.60 L353.99,321.74 L354.58,321.87 L355.09,321.99" fill="none" stroke="#ff2020" stroke-width="1.1" stroke-linejoin="round"/>
<path d="M303.00,341.00 L303.43,341.01 L304.01,341.01 L304.82,341.01 L305.90,340.80 L306.45,340.64 L307.09,340.47 L307.81,340.29 L308.57,340.07 L309.36,339.83 L310.16,339.55 L310.93,339.22 L311.66,338.91 L312.32,338.45 L312.90,337.91 L313.82,336.58 L314.55,335.20 L315.16,333.60 L315.75,332.23 L316.40,329.96 L317.14,327.91 L317.92,325.42 L318.69,322.79 L319.40,320.24 L320.00,317.41 L320.91,313.28 L321.70,309.47 L322.54,308.74 L323.49,308.67 L324.40,307.93 L325.17,306.92 L325.90,305.75 L326.70,305.29 L327.35,306.34 L328.01,308.16 L328.75,309.54 L329.60,311.48 L330.26,312.44 L330.99,314.28 L331.76,315.22 L332.55,316.26 L333.34,317.79 L334.10,319.56 L334.82,321.14 L335.51,322.22 L336.20,323.97 L336.91,325.58 L337.67,327.86 L338.50,328.99 L339.16,330.24 L339.84,331.32 L340.54,332.18 L341.28,333.20 L342.04,334.31 L342.85,335.17 L343.70,336.14 L344.60,336.96 L345.27,337.52 L346.01,337.92 L346.82,338.44 L347.66,338.79 L348.52,339.15 L349.38,339.49 L350.22,339.81 L351.02,340.11 L351.76,340.37 L352.41,340.61 L352.97,340.82 L353.40,341.00 L353.40,341.01 L303.00,341.01 Z" fill="#d96100" fill-opacity="0.42" stroke="none"/>
<line x1="260.9" y1="341.01" x2="433.4" y2="341.01" stroke="#f0a060" stroke-opacity="0.35" stroke-width="0.7"/>
<path d="M304.82,341.01 L305.90,340.80 L306.45,340.64 L307.09,340.47 L307.81,340.29 L308.57,340.07 L309.36,339.83 L310.16,339.55 L310.93,339.22 L311.66,338.91 L312.32,338.45 L312.90,337.91 L313.82,336.58 L314.55,335.20 L315.16,333.60 L315.75,332.23 L316.40,329.96 L317.14,327.91 L317.92,325.42 L318.69,322.79 L319.40,320.24 L320.00,317.41 L320.91,313.28 L321.70,309.47 L322.54,308.74 L323.49,308.67 L324.40,307.93 L325.17,306.92 L325.90,305.75 L326.70,305.29 L327.35,306.34 L328.01,308.16 L328.75,309.54 L329.60,311.48 L330.26,312.44 L330.99,314.28 L331.76,315.22 L332.55,316.26 L333.34,317.79 L334.10,319.56 L334.82,321.14 L335.51,322.22 L336.20,323.97 L336.91,325.58 L337.67,327.86 L338.50,328.99 L339.16,330.24 L339.84,331.32 L340.54,332.18 L341.28,333.20 L342.04,334.31 L342.85,335.17 L343.70,336.14 L344.60,336.96 L345.27,337.52 L346.01,337.92 L346.82,338.44 L347.66,338.79 L348.52,339.15 L349.38,339.49 L350.22,339.81 L351.02,340.11 L351.76,340.37 L352.41,340.61 L352.97,340.82" fill="none" stroke="#f08a28" stroke-width="1.1" stroke-linejoin="round"/>
<path d="M300.00,359.89 L300.42,359.89 L301.09,359.89 L302.30,359.70 L302.83,359.31 L303.47,358.85 L304.19,358.32 L304.97,357.66 L305.77,357.10 L306.59,356.34 L307.38,355.49 L308.13,354.73 L308.81,353.83 L309.40,352.84 L310.33,351.01 L311.06,348.08 L311.67,345.27 L312.26,343.09 L312.90,340.52 L313.60,338.44 L314.30,336.22 L314.99,334.31 L315.69,332.86 L316.40,332.00 L317.14,330.39 L317.90,329.95 L318.66,329.52 L319.37,328.34 L320.00,328.31 L320.77,327.50 L321.38,326.49 L322.10,326.02 L322.75,327.01 L323.45,328.16 L324.25,329.17 L325.20,330.81 L325.84,331.87 L326.55,333.38 L327.32,335.01 L328.11,335.97 L328.92,337.48 L329.72,339.14 L330.50,340.87 L331.26,341.46 L332.01,343.25 L332.77,344.33 L333.53,345.51 L334.29,346.96 L335.04,347.81 L335.80,349.01 L336.54,350.58 L337.26,351.83 L337.98,352.74 L338.71,353.64 L339.46,354.54 L340.25,355.49 L341.10,356.47 L341.76,356.94 L342.50,357.47 L343.30,357.81 L344.11,358.23 L344.93,358.59 L345.72,358.92 L346.46,359.22 L347.12,359.48 L347.68,359.71 L348.10,359.89 L348.10,359.89 L300.00,359.89 Z" fill="#e3f700" fill-opacity="0.42" stroke="none"/>
<line x1="260.9" y1="359.89" x2="433.4" y2="359.89" stroke="#eeff44" stroke-opacity="0.45" stroke-width="0.7"/>
<path d="M302.30,359.70 L302.83,359.31 L303.47,358.85 L304.19,358.32 L304.97,357.66 L305.77,357.10 L306.59,356.34 L307.38,355.49 L308.13,354.73 L308.81,353.83 L309.40,352.84 L310.33,351.01 L311.06,348.08 L311.67,345.27 L312.26,343.09 L312.90,340.52 L313.60,338.44 L314.30,336.22 L314.99,334.31 L315.69,332.86 L316.40,332.00 L317.14,330.39 L317.90,329.95 L318.66,329.52 L319.37,328.34 L320.00,328.31 L320.77,327.50 L321.38,326.49 L322.10,326.02 L322.75,327.01 L323.45,328.16 L324.25,329.17 L325.20,330.81 L325.84,331.87 L326.55,333.38 L327.32,335.01 L328.11,335.97 L328.92,337.48 L329.72,339.14 L330.50,340.87 L331.26,341.46 L332.01,343.25 L332.77,344.33 L333.53,345.51 L334.29,346.96 L335.04,347.81 L335.80,349.01 L336.54,350.58 L337.26,351.83 L337.98,352.74 L338.71,353.64 L339.46,354.54 L340.25,355.49 L341.10,356.47 L341.76,356.94 L342.50,357.47 L343.30,357.81 L344.11,358.23 L344.93,358.59 L345.72,358.92 L346.46,359.22 L347.12,359.48 L347.68,359.71" fill="none" stroke="#eeff22" stroke-width="1.1" stroke-linejoin="round"/>
<path d="M295.00,378.76 L295.49,378.76 L296.18,378.76 L297.00,378.76 L297.90,378.60 L298.56,378.22 L299.29,377.81 L300.06,377.28 L300.84,376.48 L301.60,375.52 L302.30,373.93 L303.07,371.55 L303.80,367.90 L304.51,364.48 L305.20,361.45 L305.90,357.70 L306.61,355.75 L307.32,352.85 L308.03,351.39 L308.72,348.92 L309.40,347.41 L310.21,346.18 L310.98,344.58 L311.76,343.83 L312.60,344.32 L313.32,344.78 L314.09,346.22 L314.87,347.63 L315.64,349.66 L316.40,350.95 L317.11,353.14 L317.79,354.85 L318.47,357.53 L319.19,359.23 L320.00,361.35 L320.62,362.94 L321.27,364.43 L321.94,365.99 L322.64,367.61 L323.38,369.06 L324.17,370.42 L325.00,371.57 L325.60,372.07 L326.21,372.79 L326.84,373.07 L327.48,373.79 L328.15,374.04 L328.84,374.35 L329.57,374.76 L330.34,375.18 L331.15,375.45 L332.00,375.86 L332.61,376.04 L333.26,376.25 L333.94,376.45 L334.65,376.66 L335.39,376.91 L336.13,377.12 L336.89,377.31 L337.66,377.50 L338.42,377.67 L339.17,377.84 L339.91,378.00 L340.63,378.14 L341.32,378.27 L341.98,378.39 L342.60,378.50 L343.50,378.63 L344.40,378.72 L345.29,378.76 L346.15,378.76 L346.96,378.76 L347.73,378.76 L348.42,378.76 L349.04,378.76 L349.57,378.76 L350.00,378.76 L350.00,378.76 L295.00,378.76 Z" fill="#25ed11" fill-opacity="0.4" stroke="none"/>
<line x1="260.9" y1="378.76" x2="433.4" y2="378.76" stroke="#55ee44" stroke-opacity="0.4" stroke-width="0.7"/>
<path d="M297.90,378.60 L298.56,378.22 L299.29,377.81 L300.06,377.28 L300.84,376.48 L301.60,375.52 L302.30,373.93 L303.07,371.55 L303.80,367.90 L304.51,364.48 L305.20,361.45 L305.90,357.70 L306.61,355.75 L307.32,352.85 L308.03,351.39 L308.72,348.92 L309.40,347.41 L310.21,346.18 L310.98,344.58 L311.76,343.83 L312.60,344.32 L313.32,344.78 L314.09,346.22 L314.87,347.63 L315.64,349.66 L316.40,350.95 L317.11,353.14 L317.79,354.85 L318.47,357.53 L319.19,359.23 L320.00,361.35 L320.62,362.94 L321.27,364.43 L321.94,365.99 L322.64,367.61 L323.38,369.06 L324.17,370.42 L325.00,371.57 L325.60,372.07 L326.21,372.79 L326.84,373.07 L327.48,373.79 L328.15,374.04 L328.84,374.35 L329.57,374.76 L330.34,375.18 L331.15,375.45 L332.00,375.86 L332.61,376.04 L333.26,376.25 L333.94,376.45 L334.65,376.66 L335.39,376.91 L336.13,377.12 L336.89,377.31 L337.66,377.50 L338.42,377.67 L339.17,377.84 L339.91,378.00 L340.63,378.14 L341.32,378.27 L341.98,378.39 L342.60,378.50 L343.50,378.63" fill="none" stroke="#33ee22" stroke-width="1.1" stroke-linejoin="round"/>
<path d="M299.00,397.60 L299.40,397.63 L299.94,397.63 L300.76,397.63 L302.00,397.40 L302.55,397.26 L303.19,397.10 L303.92,396.92 L304.70,396.73 L305.52,396.51 L306.36,396.27 L307.21,396.01 L308.05,395.73 L308.85,395.33 L309.61,395.07 L310.30,394.69 L310.90,394.31 L311.90,393.50 L312.73,392.56 L313.44,391.27 L314.07,389.98 L314.67,388.46 L315.30,387.44 L316.04,385.03 L316.72,383.92 L317.38,381.32 L318.06,379.94 L318.80,377.88 L319.48,376.51 L320.20,374.23 L320.94,373.14 L321.70,371.95 L322.46,370.43 L323.20,369.25 L323.95,368.83 L324.73,367.42 L325.51,367.17 L326.27,366.05 L326.97,365.36 L327.60,365.42 L328.60,364.96 L329.39,365.27 L330.20,366.51 L331.03,366.53 L331.87,368.01 L332.90,369.01 L333.52,369.67 L334.21,370.29 L334.94,370.34 L335.70,371.60 L336.49,371.99 L337.30,373.56 L338.01,374.25 L338.75,375.36 L339.51,375.81 L340.28,376.27 L341.06,377.63 L341.83,378.33 L342.60,379.74 L343.35,380.63 L344.09,381.21 L344.83,381.19 L345.57,382.16 L346.33,382.64 L347.10,383.54 L347.90,384.84 L348.64,385.65 L349.41,386.01 L350.20,387.25 L351.01,387.76 L351.80,388.53 L352.58,389.52 L353.31,389.81 L354.00,391.05 L354.83,391.45 L355.59,392.68 L356.31,393.07 L357.00,393.98 L357.69,394.70 L358.40,395.17 L359.15,395.73 L359.91,396.20 L360.67,396.62 L361.42,396.97 L362.14,397.27 L362.80,397.50 L363.76,397.63 L364.68,397.63 L365.45,397.63 L366.00,397.60 L366.00,397.63 L299.00,397.63 Z" fill="#1187ed" fill-opacity="0.4" stroke="none"/>
<line x1="260.9" y1="397.63" x2="433.4" y2="397.63" stroke="#55a0f0" stroke-opacity="0.4" stroke-width="0.7"/>
<path d="M300.76,397.63 L302.00,397.40 L302.55,397.26 L303.19,397.10 L303.92,396.92 L304.70,396.73 L305.52,396.51 L306.36,396.27 L307.21,396.01 L308.05,395.73 L308.85,395.33 L309.61,395.07 L310.30,394.69 L310.90,394.31 L311.90,393.50 L312.73,392.56 L313.44,391.27 L314.07,389.98 L314.67,388.46 L315.30,387.44 L316.04,385.03 L316.72,383.92 L317.38,381.32 L318.06,379.94 L318.80,377.88 L319.48,376.51 L320.20,374.23 L320.94,373.14 L321.70,371.95 L322.46,370.43 L323.20,369.25 L323.95,368.83 L324.73,367.42 L325.51,367.17 L326.27,366.05 L326.97,365.36 L327.60,365.42 L328.60,364.96 L329.39,365.27 L330.20,366.51 L331.03,366.53 L331.87,368.01 L332.90,369.01 L333.52,369.67 L334.21,370.29 L334.94,370.34 L335.70,371.60 L336.49,371.99 L337.30,373.56 L338.01,374.25 L338.75,375.36 L339.51,375.81 L340.28,376.27 L341.06,377.63 L341.83,378.33 L342.60,379.74 L343.35,380.63 L344.09,381.21 L344.83,381.19 L345.57,382.16 L346.33,382.64 L347.10,383.54 L347.90,384.84 L348.64,385.65 L349.41,386.01 L350.20,387.25 L351.01,387.76 L351.80,388.53 L352.58,389.52 L353.31,389.81 L354.00,391.05 L354.83,391.45 L355.59,392.68 L356.31,393.07 L357.00,393.98 L357.69,394.70 L358.40,395.17 L359.15,395.73 L359.91,396.20 L360.67,396.62 L361.42,396.97 L362.14,397.27 L362.80,397.50" fill="none" stroke="#3388ee" stroke-width="1.1" stroke-linejoin="round"/>
<path d="M306.00,416.50 L306.47,416.50 L307.11,416.50 L307.98,416.50 L309.10,416.30 L309.65,416.06 L310.28,415.78 L310.97,415.46 L311.70,415.10 L312.46,414.69 L313.24,414.33 L314.00,413.87 L314.75,413.30 L315.45,412.51 L316.10,412.11 L316.95,410.88 L317.76,409.69 L318.54,408.59 L319.28,407.51 L320.00,405.62 L320.70,404.02 L321.40,403.19 L322.19,401.37 L322.96,400.01 L323.71,397.62 L324.43,395.86 L325.12,394.70 L325.80,392.33 L326.56,390.65 L327.26,389.35 L327.94,387.74 L328.64,386.29 L329.40,384.16 L330.07,383.56 L330.74,382.99 L331.44,382.93 L332.18,383.02 L332.96,382.95 L333.80,382.44 L334.50,382.06 L335.26,382.45 L336.07,382.71 L336.90,382.52 L337.72,382.58 L338.51,382.38 L339.25,383.38 L339.90,383.47 L340.74,384.25 L341.40,384.62 L342.00,386.19 L342.66,386.74 L343.50,387.88 L344.14,389.03 L344.83,389.84 L345.56,390.37 L346.33,392.21 L347.13,393.28 L347.95,394.02 L348.77,394.90 L349.60,396.04 L350.28,397.47 L350.98,398.54 L351.71,398.76 L352.45,399.97 L353.20,401.66 L353.94,402.88 L354.67,403.47 L355.38,404.90 L356.06,405.88 L356.70,407.09 L357.57,407.70 L358.40,409.27 L359.19,410.84 L359.95,411.95 L360.67,412.75 L361.35,413.79 L362.00,414.60 L362.83,415.36 L363.58,415.80 L364.26,416.03 L364.89,416.16 L365.50,416.30 L366.50,416.49 L367.39,416.50 L368.00,416.50 L368.00,416.50 L306.00,416.50 Z" fill="#e608e6" fill-opacity="0.4" stroke="none"/>
<line x1="260.9" y1="416.50" x2="433.4" y2="416.50" stroke="#e040e0" stroke-opacity="0.9" stroke-width="0.7"/>
<path d="M309.10,416.30 L309.65,416.06 L310.28,415.78 L310.97,415.46 L311.70,415.10 L312.46,414.69 L313.24,414.33 L314.00,413.87 L314.75,413.30 L315.45,412.51 L316.10,412.11 L316.95,410.88 L317.76,409.69 L318.54,408.59 L319.28,407.51 L320.00,405.62 L320.70,404.02 L321.40,403.19 L322.19,401.37 L322.96,400.01 L323.71,397.62 L324.43,395.86 L325.12,394.70 L325.80,392.33 L326.56,390.65 L327.26,389.35 L327.94,387.74 L328.64,386.29 L329.40,384.16 L330.07,383.56 L330.74,382.99 L331.44,382.93 L332.18,383.02 L332.96,382.95 L333.80,382.44 L334.50,382.06 L335.26,382.45 L336.07,382.71 L336.90,382.52 L337.72,382.58 L338.51,382.38 L339.25,383.38 L339.90,383.47 L340.74,384.25 L341.40,384.62 L342.00,386.19 L342.66,386.74 L343.50,387.88 L344.14,389.03 L344.83,389.84 L345.56,390.37 L346.33,392.21 L347.13,393.28 L347.95,394.02 L348.77,394.90 L349.60,396.04 L350.28,397.47 L350.98,398.54 L351.71,398.76 L352.45,399.97 L353.20,401.66 L353.94,402.88 L354.67,403.47 L355.38,404.90 L356.06,405.88 L356.70,407.09 L357.57,407.70 L358.40,409.27 L359.19,410.84 L359.95,411.95 L360.67,412.75 L361.35,413.79 L362.00,414.60 L362.83,415.36 L363.58,415.80 L364.26,416.03 L364.89,416.16 L365.50,416.30" fill="none" stroke="#ff22e6" stroke-width="1.1" stroke-linejoin="round"/>
<line x1="262.60" y1="416.50" x2="262.60" y2="418.30" stroke="#111" stroke-width="1.0"/>
<line x1="265.90" y1="416.50" x2="265.90" y2="418.30" stroke="#111" stroke-width="1.0"/>
<line x1="273.80" y1="416.50" x2="273.80" y2="418.30" stroke="#111" stroke-width="1.0"/>
<line x1="277.00" y1="416.50" x2="277.00" y2="418.30" stroke="#111" stroke-width="1.0"/>
<line x1="281.00" y1="416.50" x2="281.00" y2="418.30" stroke="#111" stroke-width="1.0"/>
<line x1="285.00" y1="416.50" x2="285.00" y2="418.30" stroke="#111" stroke-width="1.0"/>
<line x1="269.20" y1="416.50" x2="269.20" y2="420.30" stroke="#111" stroke-width="0.9"/>
<rect x="288.90" y="416.50" width="11.80" height="2.6" fill="#111"/>
<line x1="289.40" y1="416.50" x2="289.40" y2="420.40" stroke="#111" stroke-width="1.0"/>
<line x1="292.50" y1="416.50" x2="292.50" y2="420.40" stroke="#111" stroke-width="1.0"/>
<line x1="295.10" y1="416.50" x2="295.10" y2="420.40" stroke="#111" stroke-width="1.0"/>
<line x1="300.20" y1="416.50" x2="300.20" y2="420.40" stroke="#111" stroke-width="1.0"/>
<line x1="307.30" y1="416.50" x2="307.30" y2="418.30" stroke="#111" stroke-width="1.0"/>
<line x1="311.90" y1="416.50" x2="311.90" y2="418.30" stroke="#111" stroke-width="1.0"/>
<line x1="316.50" y1="416.50" x2="316.50" y2="418.30" stroke="#111" stroke-width="1.0"/>
<line x1="325.00" y1="416.50" x2="325.00" y2="418.30" stroke="#111" stroke-width="1.0"/>
<line x1="328.30" y1="416.50" x2="328.30" y2="418.30" stroke="#111" stroke-width="1.0"/>
<line x1="330.90" y1="416.50" x2="330.90" y2="418.30" stroke="#111" stroke-width="1.0"/>
<line x1="333.20" y1="416.50" x2="333.20" y2="418.30" stroke="#111" stroke-width="1.0"/>
<line x1="321.10" y1="416.50" x2="321.10" y2="420.30" stroke="#111" stroke-width="0.9"/>
<line x1="335.00" y1="416.50" x2="335.00" y2="420.70" stroke="#111" stroke-width="1.3"/>
<line x1="347.85" y1="416.50" x2="347.85" y2="418.30" stroke="#111" stroke-width="1.0"/>
<line x1="355.37" y1="416.50" x2="355.37" y2="418.30" stroke="#111" stroke-width="1.0"/>
<line x1="360.71" y1="416.50" x2="360.71" y2="418.30" stroke="#111" stroke-width="1.0"/>
<line x1="364.85" y1="416.50" x2="364.85" y2="418.30" stroke="#111" stroke-width="1.0"/>
<line x1="368.23" y1="416.50" x2="368.23" y2="418.30" stroke="#111" stroke-width="1.0"/>
<line x1="371.09" y1="416.50" x2="371.09" y2="418.30" stroke="#111" stroke-width="1.0"/>
<line x1="373.56" y1="416.50" x2="373.56" y2="418.30" stroke="#111" stroke-width="1.0"/>
<line x1="375.75" y1="416.50" x2="375.75" y2="418.30" stroke="#111" stroke-width="1.0"/>
<line x1="377.70" y1="416.50" x2="377.70" y2="420.70" stroke="#111" stroke-width="1.3"/>
<line x1="389.29" y1="416.50" x2="389.29" y2="418.30" stroke="#111" stroke-width="1.0"/>
<line x1="396.07" y1="416.50" x2="396.07" y2="418.30" stroke="#111" stroke-width="1.0"/>
<line x1="400.88" y1="416.50" x2="400.88" y2="418.30" stroke="#111" stroke-width="1.0"/>
<line x1="404.61" y1="416.50" x2="404.61" y2="418.30" stroke="#111" stroke-width="1.0"/>
<line x1="407.66" y1="416.50" x2="407.66" y2="418.30" stroke="#111" stroke-width="1.0"/>
<line x1="410.24" y1="416.50" x2="410.24" y2="418.30" stroke="#111" stroke-width="1.0"/>
<line x1="412.47" y1="416.50" x2="412.47" y2="418.30" stroke="#111" stroke-width="1.0"/>
<line x1="414.44" y1="416.50" x2="414.44" y2="418.30" stroke="#111" stroke-width="1.0"/>
<line x1="416.20" y1="416.50" x2="416.20" y2="420.70" stroke="#111" stroke-width="1.3"/>
<line x1="427.79" y1="416.50" x2="427.79" y2="418.30" stroke="#111" stroke-width="1.0"/>
<text x="297.20" y="431.00" text-anchor="middle" font-size="6.5" fill="#333">0</text>
<text x="333.90" y="431.00" font-size="7" fill="#333" textLength="6.9" lengthAdjust="spacingAndGlyphs">10</text>
<text x="341.40" y="427.40" font-size="6" fill="#333">3</text>
<text x="376.60" y="431.00" font-size="7" fill="#333" textLength="6.9" lengthAdjust="spacingAndGlyphs">10</text>
<text x="384.10" y="427.40" font-size="6" fill="#333">4</text>
<text x="415.10" y="431.00" font-size="7" fill="#333" textLength="6.9" lengthAdjust="spacingAndGlyphs">10</text>
<text x="422.60" y="427.40" font-size="6" fill="#333">5</text>
<text x="307.70" y="447.10" font-size="8" fill="#2a2a2a" textLength="71.40" lengthAdjust="spacingAndGlyphs">Comp-APC-A :: TLR4</text>
</svg></body></html>
